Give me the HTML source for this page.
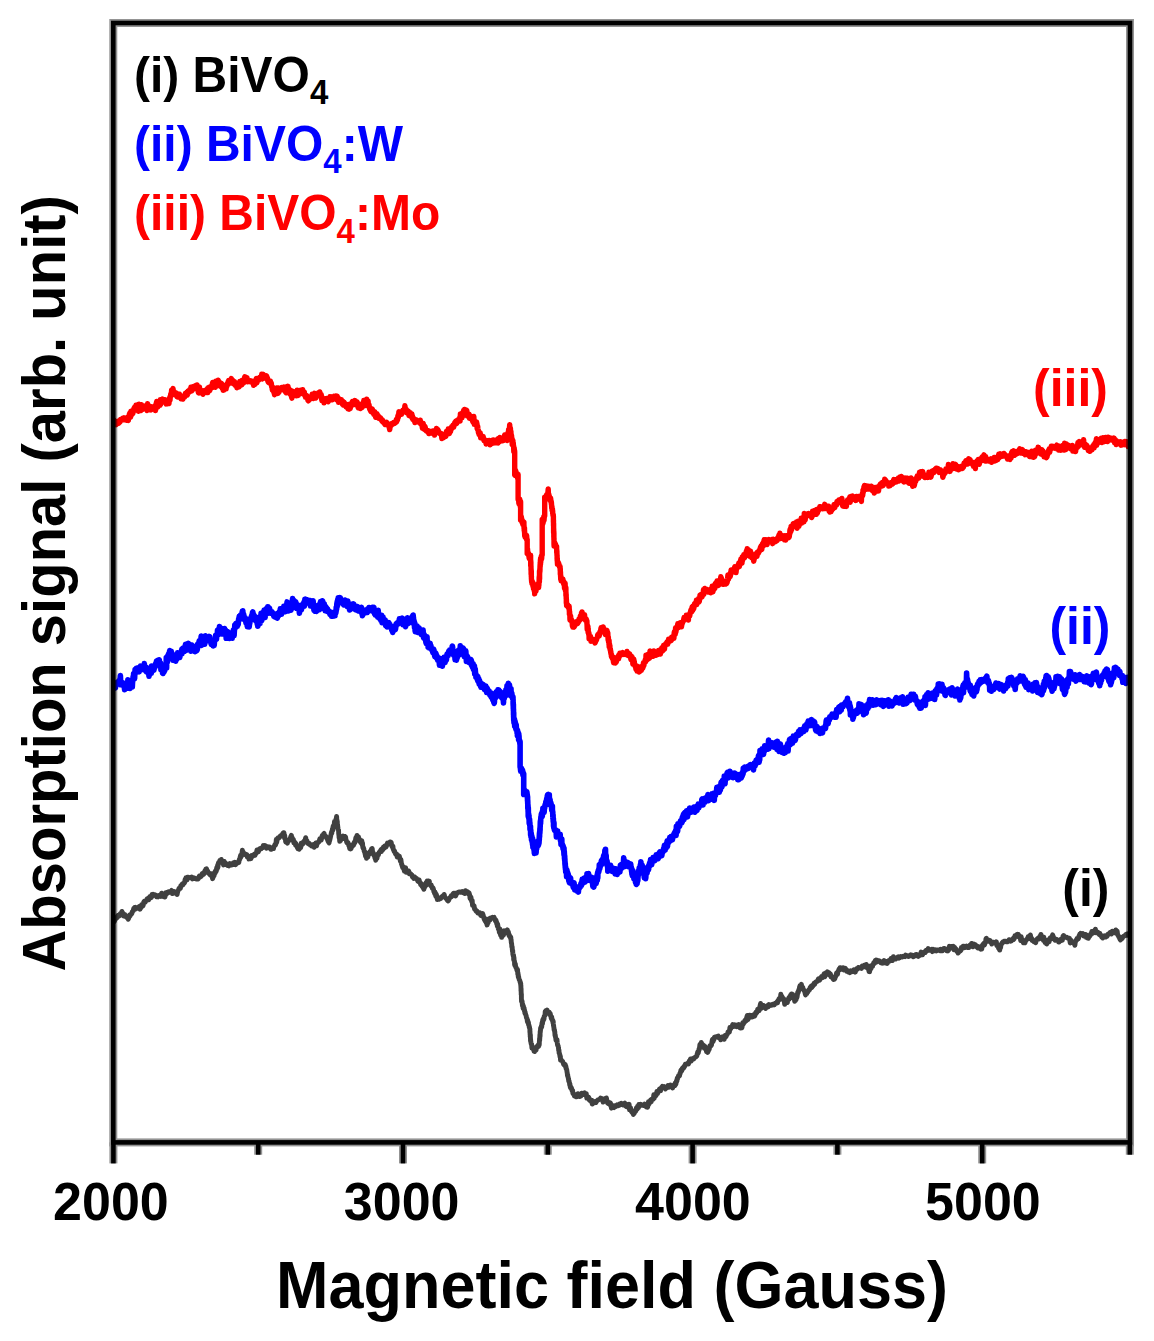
<!DOCTYPE html>
<html><head><meta charset="utf-8"><style>
html,body{margin:0;padding:0;background:#fff;width:1154px;height:1341px;overflow:hidden}
svg{display:block}

text{font-family:"Liberation Sans",sans-serif;font-weight:bold}
</style></head><body>
<div id="w"><svg width="1154" height="1341" viewBox="0 0 1154 1341">
<rect width="1154" height="1341" fill="#fff"/>
<defs><clipPath id="pc"><rect x="113.3" y="23.0" width="1016.7" height="1119.4"/></clipPath></defs>
<g fill="none" stroke-linejoin="round" stroke-linecap="butt" clip-path="url(#pc)">
<path d="M113.0,922.3 L114.0,921.8 L115.0,919.9 L115.6,918.5 L116.2,917.6 L116.7,918.1 L117.3,916.5 L117.9,915.5 L118.5,916.5 L119.0,915.9 L119.6,915.7 L120.2,913.7 L120.8,914.0 L121.3,913.4 L121.9,911.4 L122.5,912.8 L123.1,913.2 L123.7,915.9 L124.2,914.3 L124.8,914.5 L125.4,916.5 L126.0,916.0 L126.6,917.3 L127.1,916.7 L127.7,917.8 L128.3,919.2 L128.7,918.2 L129.2,916.9 L129.6,915.0 L130.1,915.8 L130.5,914.7 L131.0,914.6 L131.4,913.4 L131.9,913.5 L132.3,911.7 L132.8,911.2 L133.2,910.9 L133.7,908.5 L134.1,908.4 L134.6,907.6 L135.0,909.4 L135.8,907.4 L136.7,908.3 L137.5,908.4 L138.3,907.7 L139.2,906.5 L140.0,909.2 L140.5,907.1 L141.1,907.6 L141.6,904.8 L142.1,905.0 L142.6,906.0 L143.2,905.5 L143.7,902.1 L144.2,901.4 L144.7,902.0 L145.3,902.1 L145.8,900.9 L146.5,900.5 L147.2,898.7 L147.9,899.8 L148.6,899.9 L149.3,897.8 L149.9,896.4 L150.6,896.6 L151.3,897.6 L152.0,894.6 L152.7,895.8 L153.4,894.4 L154.1,894.8 L154.9,894.8 L155.8,895.2 L156.6,896.8 L157.4,895.8 L158.3,896.8 L159.1,895.5 L159.9,895.3 L160.7,896.3 L161.6,893.2 L162.4,896.1 L163.2,896.4 L164.1,895.1 L164.9,897.0 L165.4,895.2 L165.8,892.6 L166.3,894.1 L166.8,892.7 L167.3,892.4 L167.7,892.1 L168.2,892.8 L169.0,891.8 L169.9,891.8 L170.7,892.4 L171.6,890.4 L172.4,893.6 L173.2,891.4 L174.1,893.1 L174.9,891.7 L175.8,892.1 L176.6,892.8 L177.1,894.4 L177.5,892.5 L178.0,890.5 L178.5,890.2 L178.9,888.6 L179.4,889.0 L179.9,887.8 L180.4,888.4 L180.8,885.7 L181.3,886.0 L181.8,884.8 L182.2,884.2 L182.7,885.0 L183.2,883.7 L183.6,883.5 L184.1,883.4 L184.6,882.7 L185.1,879.5 L185.5,880.7 L186.0,877.7 L186.5,878.7 L186.9,880.0 L187.4,877.2 L188.2,877.1 L189.1,877.7 L189.9,877.6 L190.7,877.7 L191.6,877.0 L192.4,878.9 L193.2,878.7 L194.0,877.7 L194.9,878.3 L195.7,878.7 L196.5,879.1 L197.4,878.5 L198.2,878.9 L198.8,877.3 L199.4,875.9 L200.0,875.9 L200.6,876.8 L201.2,876.2 L201.8,874.8 L202.3,873.5 L202.9,873.8 L203.5,874.5 L204.1,873.6 L204.7,871.0 L205.3,871.0 L205.9,869.0 L206.5,868.8 L207.1,870.7 L207.7,871.1 L208.3,872.7 L208.9,873.6 L209.5,873.8 L210.2,874.9 L210.8,873.6 L211.4,873.6 L212.0,875.9 L212.6,878.7 L213.2,877.0 L213.5,874.7 L213.8,875.3 L214.1,875.8 L214.5,872.6 L214.8,873.6 L215.1,871.5 L215.4,872.6 L215.7,871.4 L216.0,870.1 L216.3,871.1 L216.7,867.9 L217.0,866.9 L217.3,868.7 L217.6,865.2 L217.9,867.5 L218.2,864.5 L218.5,862.8 L218.9,863.1 L219.2,862.4 L219.5,861.8 L219.8,860.6 L220.5,862.3 L221.3,859.4 L222.0,861.6 L222.8,862.4 L223.5,864.9 L224.3,861.5 L225.0,863.6 L225.8,863.3 L226.5,864.2 L227.3,865.4 L228.2,865.0 L229.0,865.8 L229.8,863.6 L230.6,864.3 L231.5,865.0 L232.3,864.6 L233.1,863.1 L234.0,864.4 L234.8,862.2 L235.6,864.7 L236.4,862.9 L237.3,862.5 L238.1,862.7 L238.5,862.5 L238.8,862.6 L239.2,859.9 L239.5,858.9 L239.9,859.1 L240.2,856.9 L240.6,855.3 L241.0,857.1 L241.3,855.1 L241.7,855.8 L242.0,852.9 L242.4,850.2 L242.7,852.7 L243.1,851.8 L243.6,853.8 L244.2,853.3 L244.7,853.7 L245.2,854.6 L245.7,854.3 L246.3,855.3 L246.8,854.5 L247.3,857.0 L247.8,856.3 L248.4,857.2 L248.9,859.0 L249.6,858.7 L250.3,856.2 L250.9,858.7 L251.6,855.6 L252.3,856.5 L253.0,856.0 L253.7,854.8 L254.4,854.2 L255.0,855.3 L255.7,853.8 L256.4,852.8 L257.0,850.0 L257.6,850.6 L258.3,851.9 L258.9,850.4 L259.5,848.7 L260.1,848.5 L260.8,848.2 L261.4,848.7 L262.0,847.8 L262.6,847.9 L263.3,845.5 L263.9,846.8 L264.7,845.5 L265.6,846.0 L266.4,848.2 L267.2,846.8 L268.1,846.8 L268.9,847.0 L269.8,847.0 L270.6,849.2 L271.4,849.2 L272.3,848.8 L273.1,848.5 L273.5,848.6 L273.8,846.7 L274.2,846.4 L274.5,845.6 L274.9,844.5 L275.2,845.3 L275.6,844.7 L276.0,843.5 L276.3,839.4 L276.7,842.4 L277.0,840.5 L277.4,838.6 L277.7,838.2 L278.1,838.6 L278.8,838.1 L279.6,837.3 L280.3,836.1 L281.0,835.4 L281.7,835.7 L282.4,834.3 L283.2,832.9 L283.9,832.7 L284.1,834.0 L284.3,835.3 L284.5,838.1 L284.7,835.3 L284.9,837.9 L285.1,838.2 L285.4,839.4 L285.6,841.3 L285.8,842.0 L286.0,841.5 L286.2,841.9 L286.4,841.9 L286.9,842.6 L287.4,843.2 L287.9,841.0 L288.4,841.3 L288.9,840.7 L289.4,839.7 L289.9,839.7 L290.4,837.8 L290.9,836.4 L291.4,835.4 L291.8,838.3 L292.2,837.7 L292.6,838.5 L293.0,840.4 L293.4,839.5 L293.8,842.8 L294.2,842.4 L294.6,842.0 L295.1,842.6 L295.5,845.0 L295.9,843.5 L296.3,844.8 L296.7,846.2 L297.1,847.1 L297.5,847.6 L297.9,848.8 L298.3,848.7 L298.8,848.3 L299.3,849.1 L299.7,847.8 L300.2,846.1 L300.7,847.6 L301.2,843.2 L301.6,844.6 L302.1,844.6 L302.6,844.2 L303.1,842.7 L303.6,841.6 L304.0,841.9 L304.5,840.5 L305.0,840.5 L305.7,837.7 L306.3,841.5 L307.0,840.9 L307.6,843.3 L308.3,843.6 L309.0,844.2 L309.6,843.7 L310.3,845.1 L310.9,844.9 L311.6,846.0 L312.4,845.5 L313.3,844.6 L314.1,847.3 L314.9,845.9 L315.8,843.0 L316.6,845.8 L317.1,842.8 L317.5,843.3 L318.0,842.3 L318.5,841.7 L318.9,841.8 L319.4,840.5 L319.9,838.7 L320.4,839.5 L320.8,839.2 L321.3,839.9 L321.8,837.1 L322.2,835.6 L322.7,835.7 L323.2,836.1 L323.6,833.9 L324.1,833.4 L324.5,835.3 L324.9,835.5 L325.4,836.4 L325.8,836.2 L326.2,836.7 L326.6,837.9 L327.0,838.8 L327.4,839.3 L327.9,840.8 L328.3,841.6 L328.7,842.3 L329.1,842.9 L329.3,840.7 L329.5,839.7 L329.7,840.8 L329.9,839.3 L330.2,838.6 L330.4,836.5 L330.6,836.7 L330.8,835.4 L331.0,834.4 L331.2,833.9 L331.4,832.2 L331.6,833.0 L331.8,833.3 L332.0,830.6 L332.2,830.6 L332.5,828.7 L332.7,829.6 L332.9,830.0 L333.1,826.2 L333.3,826.4 L333.6,827.3 L333.9,825.5 L334.2,824.5 L334.5,821.5 L334.8,822.7 L335.1,823.0 L335.4,822.8 L335.7,821.2 L336.0,819.2 L336.3,818.4 L336.6,816.5 L336.7,818.0 L336.8,821.0 L337.0,820.6 L337.1,820.2 L337.2,823.6 L337.3,821.4 L337.4,825.2 L337.5,824.4 L337.7,825.9 L337.8,827.0 L337.9,827.4 L338.0,829.2 L338.1,828.8 L338.2,829.2 L338.4,829.7 L338.5,829.7 L338.6,831.3 L338.7,833.7 L338.8,834.4 L339.0,835.8 L339.1,837.9 L339.2,836.7 L339.3,837.3 L339.4,836.3 L339.5,838.1 L339.7,841.4 L339.8,840.5 L339.9,840.7 L340.5,840.6 L341.1,837.9 L341.8,838.4 L342.4,837.4 L343.0,836.0 L343.6,838.4 L344.3,838.1 L344.9,836.4 L345.2,837.7 L345.6,837.1 L345.9,839.3 L346.3,840.3 L346.6,841.8 L346.9,842.6 L347.3,842.2 L347.6,842.4 L348.0,842.4 L348.3,843.3 L348.7,845.3 L349.0,846.0 L349.3,846.2 L349.7,848.6 L350.0,848.3 L350.4,848.4 L350.7,848.9 L351.1,848.4 L351.5,846.7 L351.9,845.9 L352.3,846.5 L352.7,844.8 L353.1,844.4 L353.5,845.2 L353.9,843.0 L354.2,843.8 L354.6,841.7 L355.0,842.5 L355.4,840.7 L355.8,837.8 L356.2,840.0 L356.6,837.9 L357.0,835.4 L357.4,836.7 L357.9,837.5 L358.4,836.8 L358.9,838.2 L359.4,840.0 L360.0,841.6 L360.5,842.1 L361.0,842.9 L361.5,843.5 L361.8,840.7 L362.0,843.3 L362.2,845.0 L362.5,842.9 L362.8,847.1 L363.0,848.1 L363.2,847.2 L363.5,848.4 L363.8,848.6 L364.0,850.3 L364.2,851.1 L364.5,851.9 L364.8,851.7 L365.0,853.9 L365.2,854.0 L365.5,856.1 L365.8,856.2 L366.0,855.2 L366.2,856.1 L366.5,858.4 L366.9,857.1 L367.3,857.4 L367.8,857.0 L368.2,855.5 L368.6,853.1 L369.0,852.9 L369.4,854.0 L369.8,851.6 L370.2,853.1 L370.7,851.2 L371.1,851.1 L371.5,849.0 L371.9,850.6 L372.2,848.5 L372.6,852.0 L372.9,853.5 L373.2,852.8 L373.6,853.7 L373.9,855.2 L374.3,856.1 L374.6,856.0 L375.0,858.2 L375.3,856.7 L375.7,860.2 L376.1,857.0 L376.6,856.9 L377.0,858.3 L377.5,855.3 L377.9,853.9 L378.4,854.9 L378.8,853.2 L379.3,852.3 L379.7,852.0 L380.2,851.3 L380.6,850.3 L381.1,849.6 L381.5,851.5 L382.2,848.7 L382.8,849.8 L383.5,846.9 L384.1,848.3 L384.8,846.0 L385.4,846.2 L386.1,846.8 L386.8,845.1 L387.4,843.1 L388.1,844.0 L388.7,843.8 L389.4,844.0 L390.0,841.9 L390.7,842.1 L391.0,843.2 L391.2,842.3 L391.5,844.6 L391.8,844.6 L392.1,846.7 L392.4,846.9 L392.6,847.6 L392.9,846.1 L393.2,849.2 L393.4,849.7 L393.7,849.9 L394.0,851.1 L394.5,850.9 L395.1,853.0 L395.6,854.1 L396.1,854.6 L396.6,854.1 L397.2,856.9 L397.7,856.7 L398.2,855.5 L398.7,856.9 L399.3,856.1 L399.8,858.2 L400.1,859.8 L400.4,861.1 L400.6,860.2 L400.9,859.5 L401.2,861.9 L401.5,864.2 L401.7,863.8 L402.0,865.6 L402.3,866.0 L402.6,867.4 L402.8,867.2 L403.1,866.7 L403.7,868.4 L404.4,871.1 L405.0,868.6 L405.6,867.8 L406.2,872.4 L406.9,871.3 L407.5,870.8 L408.1,871.4 L408.7,871.0 L409.4,873.9 L410.0,873.9 L410.6,873.7 L411.2,874.5 L411.9,875.0 L412.5,877.1 L413.1,876.4 L413.8,878.5 L414.4,876.7 L415.1,877.5 L415.8,878.1 L416.5,878.5 L417.1,879.4 L417.8,881.1 L418.5,881.7 L419.1,879.9 L419.8,882.8 L420.2,882.3 L420.6,884.6 L421.0,883.6 L421.4,883.7 L421.9,886.0 L422.3,886.6 L422.7,886.3 L423.1,887.5 L423.5,888.4 L423.9,889.3 L424.2,886.5 L424.6,886.3 L424.9,886.8 L425.3,886.2 L425.6,884.7 L426.0,882.7 L426.4,885.0 L426.7,882.6 L427.1,881.1 L427.4,883.0 L427.8,881.8 L428.1,880.9 L428.5,881.5 L428.9,882.0 L429.3,881.2 L429.6,883.0 L430.0,884.1 L430.4,885.1 L430.8,885.8 L431.2,885.0 L431.6,886.2 L431.9,887.3 L432.3,888.2 L432.7,888.3 L433.1,888.1 L433.5,889.5 L433.9,891.7 L434.3,892.2 L434.6,893.6 L435.0,891.9 L435.4,894.1 L435.8,896.2 L436.2,894.1 L436.6,895.7 L436.9,895.9 L437.3,899.6 L437.7,899.2 L438.1,899.3 L438.7,899.4 L439.4,898.6 L440.0,898.9 L440.6,898.6 L441.2,897.7 L441.9,896.5 L442.5,896.3 L443.1,895.7 L443.7,896.7 L444.2,894.4 L444.8,897.2 L445.3,897.6 L445.9,898.3 L446.4,898.5 L447.0,899.3 L447.5,900.5 L448.1,900.9 L448.7,900.2 L449.3,898.4 L449.9,897.6 L450.5,897.5 L451.1,895.9 L451.7,896.5 L452.3,895.6 L452.9,894.0 L453.5,893.3 L454.1,894.1 L454.7,893.4 L455.5,896.0 L456.4,894.4 L457.2,892.6 L458.0,892.7 L458.9,891.9 L459.7,892.0 L460.5,892.2 L461.4,892.3 L462.2,891.5 L463.0,892.7 L463.9,892.4 L464.7,893.5 L465.4,890.7 L466.1,893.1 L466.8,892.6 L467.6,891.8 L468.3,893.6 L469.0,892.8 L469.7,894.9 L470.0,898.4 L470.2,897.7 L470.5,899.0 L470.7,899.1 L471.0,897.2 L471.2,899.9 L471.5,900.4 L471.7,901.4 L472.0,900.7 L472.2,900.5 L472.5,905.4 L472.7,905.2 L473.0,905.1 L473.4,905.1 L473.7,906.5 L474.1,905.8 L474.4,908.8 L474.8,908.7 L475.1,909.1 L475.4,909.6 L475.8,910.7 L476.5,911.4 L477.2,911.3 L477.8,913.1 L478.5,912.8 L479.2,913.0 L479.9,912.7 L480.6,915.2 L481.3,915.7 L481.9,915.6 L482.6,913.5 L483.3,915.5 L483.6,917.5 L483.9,917.3 L484.2,919.3 L484.5,918.4 L484.8,920.4 L485.1,920.9 L485.4,918.6 L485.7,921.4 L486.0,922.4 L486.3,922.7 L486.6,923.2 L487.1,925.0 L487.6,922.7 L488.1,922.9 L488.6,920.1 L489.1,918.7 L489.6,919.7 L490.1,919.9 L490.6,918.1 L491.1,918.7 L491.6,918.3 L492.5,917.3 L493.3,917.8 L494.1,917.4 L495.0,919.4 L495.3,920.8 L495.6,920.3 L495.9,920.1 L496.1,920.6 L496.4,921.8 L496.7,923.8 L497.0,922.9 L497.3,925.9 L497.6,923.9 L497.9,925.9 L498.2,928.0 L498.4,929.2 L498.7,927.8 L499.0,929.7 L499.3,932.2 L499.6,931.6 L499.9,929.0 L500.2,932.3 L500.5,935.1 L500.7,932.4 L501.0,935.2 L501.3,933.0 L501.6,937.4 L502.2,934.4 L502.9,935.5 L503.5,935.0 L504.2,930.8 L504.8,931.6 L505.5,932.8 L506.1,930.4 L506.8,931.3 L507.4,929.9 L507.7,932.9 L508.1,931.8 L508.4,932.1 L508.8,934.4 L509.1,935.8 L509.4,935.1 L509.8,936.3 L510.1,937.3 L510.5,937.1 L510.8,937.1 L510.9,939.7 L511.0,939.6 L511.1,939.4 L511.3,942.5 L511.4,942.9 L511.5,943.4 L511.6,943.3 L511.7,944.7 L511.8,946.4 L511.9,947.1 L512.1,946.6 L512.2,947.3 L512.3,949.4 L512.4,950.1 L512.5,951.5 L512.7,950.3 L512.8,953.2 L512.9,954.8 L513.1,954.8 L513.2,954.8 L513.3,956.3 L513.5,954.9 L513.6,956.6 L513.7,959.9 L513.8,956.9 L514.0,958.2 L514.1,961.0 L514.2,960.3 L514.4,961.2 L514.5,961.4 L514.6,965.0 L514.8,963.5 L514.9,964.6 L515.3,963.9 L515.7,967.3 L516.1,967.4 L516.6,968.7 L517.0,970.6 L517.4,970.1 L517.5,969.5 L517.6,970.5 L517.7,972.5 L517.8,974.5 L518.0,972.8 L518.1,974.6 L518.2,975.5 L518.3,977.2 L518.6,976.4 L518.9,978.5 L519.2,979.8 L519.5,979.8 L519.8,980.6 L520.1,982.1 L520.4,982.9 L520.7,984.5 L520.7,983.0 L520.8,986.1 L520.8,985.5 L520.9,985.4 L520.9,986.8 L520.9,987.0 L521.0,988.8 L521.0,990.9 L521.1,988.4 L521.1,990.3 L521.2,993.1 L521.2,992.9 L521.2,994.8 L521.3,993.5 L521.3,995.6 L521.4,993.9 L521.4,996.5 L521.4,998.9 L521.5,1000.2 L521.5,1001.5 L521.6,1000.6 L521.6,1000.6 L521.9,1001.9 L522.1,1001.2 L522.4,1005.3 L522.6,1006.0 L522.9,1004.7 L523.1,1008.3 L523.4,1006.0 L523.6,1008.7 L523.9,1008.2 L524.1,1008.1 L524.4,1011.0 L524.6,1010.2 L524.9,1013.3 L525.1,1012.0 L525.4,1013.8 L525.6,1013.9 L525.9,1015.3 L526.1,1015.3 L526.4,1017.5 L526.6,1018.1 L526.9,1018.3 L527.1,1018.9 L527.4,1021.8 L527.6,1019.9 L527.8,1021.0 L528.0,1023.1 L528.2,1023.1 L528.4,1022.3 L528.6,1024.7 L528.9,1025.2 L529.1,1025.5 L529.3,1027.5 L529.5,1027.0 L529.7,1028.7 L529.9,1028.7 L529.9,1032.2 L530.0,1031.2 L530.0,1032.7 L530.1,1033.4 L530.1,1034.7 L530.2,1034.6 L530.2,1036.4 L530.3,1036.6 L530.4,1034.8 L530.4,1038.4 L530.5,1037.7 L530.5,1040.7 L530.6,1040.8 L530.6,1041.1 L530.7,1039.7 L530.7,1041.0 L531.0,1042.7 L531.3,1044.2 L531.6,1044.0 L531.9,1048.1 L532.2,1047.3 L532.6,1047.5 L532.9,1047.4 L533.2,1048.8 L533.5,1049.7 L533.8,1050.2 L534.1,1051.3 L534.6,1051.5 L535.1,1048.3 L535.6,1049.6 L536.1,1049.9 L536.6,1046.7 L537.1,1047.3 L537.6,1046.4 L538.1,1045.0 L538.6,1046.4 L539.1,1044.5 L539.2,1045.1 L539.3,1043.5 L539.3,1042.0 L539.4,1041.7 L539.5,1040.2 L539.6,1038.1 L539.7,1040.4 L539.7,1038.5 L539.8,1038.4 L539.9,1034.6 L540.0,1036.7 L540.1,1035.6 L540.1,1033.9 L540.2,1031.0 L540.3,1032.4 L540.4,1030.8 L540.5,1030.4 L540.5,1029.8 L540.6,1028.0 L540.7,1028.0 L541.0,1027.3 L541.2,1027.9 L541.5,1025.5 L541.7,1027.1 L542.0,1022.8 L542.2,1023.0 L542.5,1023.5 L542.7,1019.9 L543.0,1021.2 L543.2,1020.2 L543.5,1018.4 L543.7,1018.0 L544.0,1019.0 L544.2,1016.3 L544.5,1016.2 L544.7,1015.6 L545.0,1015.6 L545.2,1011.6 L545.5,1011.4 L545.7,1010.8 L546.0,1011.1 L546.2,1011.2 L546.5,1010.6 L547.0,1010.1 L547.5,1012.6 L548.1,1011.6 L548.6,1013.0 L549.1,1012.2 L549.7,1014.4 L550.2,1013.5 L550.7,1016.0 L551.0,1016.5 L551.2,1018.3 L551.5,1016.9 L551.7,1017.0 L552.0,1019.8 L552.2,1020.1 L552.5,1020.1 L552.7,1020.1 L553.0,1023.1 L553.2,1021.2 L553.3,1023.4 L553.5,1025.7 L553.6,1025.2 L553.7,1026.7 L553.9,1027.5 L554.0,1028.4 L554.1,1029.7 L554.3,1030.1 L554.4,1029.8 L554.5,1029.8 L554.6,1031.5 L554.8,1031.9 L554.9,1033.8 L555.0,1035.4 L555.2,1035.7 L555.3,1035.0 L555.4,1036.7 L555.6,1037.3 L555.7,1037.6 L556.0,1040.2 L556.2,1040.4 L556.5,1041.0 L556.7,1040.2 L557.0,1039.6 L557.2,1042.3 L557.5,1045.0 L557.7,1044.5 L558.0,1045.5 L558.2,1046.1 L558.4,1047.7 L558.5,1048.1 L558.7,1050.6 L558.8,1049.6 L559.0,1050.3 L559.1,1052.8 L559.3,1053.0 L559.5,1053.7 L559.6,1054.4 L559.8,1054.7 L559.9,1055.9 L560.1,1056.9 L560.2,1057.3 L560.4,1056.2 L560.5,1060.2 L560.7,1059.2 L561.2,1059.8 L561.7,1060.7 L562.2,1061.0 L562.7,1061.5 L563.2,1063.0 L563.7,1064.6 L564.2,1064.1 L564.7,1065.5 L565.2,1064.4 L565.7,1067.2 L565.9,1066.1 L566.1,1068.8 L566.2,1068.1 L566.4,1069.1 L566.6,1069.3 L566.8,1070.1 L567.0,1072.0 L567.1,1072.1 L567.3,1073.6 L567.5,1075.8 L567.7,1074.7 L567.8,1076.0 L568.0,1077.1 L568.2,1077.4 L568.4,1078.8 L568.6,1079.9 L568.8,1081.5 L569.0,1080.6 L569.2,1082.0 L569.5,1082.8 L569.7,1085.1 L569.9,1083.7 L570.1,1085.7 L570.3,1087.1 L570.5,1087.8 L570.7,1087.3 L571.1,1087.7 L571.4,1087.7 L571.8,1089.7 L572.2,1090.8 L572.6,1090.3 L572.9,1093.4 L573.3,1093.4 L573.7,1093.8 L574.1,1094.3 L574.4,1096.0 L574.8,1096.0 L575.6,1096.6 L576.3,1095.3 L577.1,1096.6 L577.9,1093.7 L578.6,1094.0 L579.4,1096.6 L580.2,1095.6 L581.0,1095.9 L581.7,1093.2 L582.5,1094.5 L583.3,1094.5 L584.0,1094.2 L584.8,1092.8 L585.3,1095.1 L585.8,1094.7 L586.3,1093.7 L586.8,1098.1 L587.3,1096.5 L587.8,1098.3 L588.3,1097.0 L588.8,1097.4 L589.3,1099.9 L589.8,1100.5 L590.3,1099.6 L590.8,1101.2 L591.3,1100.3 L591.8,1100.3 L592.3,1104.1 L593.0,1101.4 L593.8,1102.9 L594.5,1102.8 L595.3,1101.7 L596.0,1102.4 L596.8,1100.8 L597.5,1100.4 L598.3,1099.6 L599.0,1099.6 L599.8,1099.2 L600.6,1098.0 L601.4,1099.0 L602.3,1098.8 L603.1,1102.1 L603.9,1100.6 L604.8,1098.7 L605.6,1100.2 L606.4,1097.9 L606.9,1100.4 L607.4,1102.8 L607.9,1101.8 L608.4,1103.6 L608.9,1102.6 L609.4,1104.1 L609.9,1104.7 L610.4,1102.8 L610.9,1104.8 L611.4,1108.2 L612.2,1105.3 L613.1,1107.2 L613.9,1107.6 L614.7,1105.7 L615.6,1106.6 L616.4,1105.9 L617.2,1104.8 L618.1,1105.8 L618.9,1105.5 L619.7,1104.0 L620.6,1104.4 L621.4,1103.4 L622.2,1104.5 L623.1,1104.9 L623.9,1104.0 L624.8,1103.2 L625.6,1105.9 L626.4,1106.6 L627.3,1104.5 L628.1,1105.6 L628.6,1105.5 L629.1,1104.2 L629.5,1109.7 L630.0,1108.6 L630.5,1107.6 L631.0,1110.9 L631.5,1111.1 L632.0,1112.4 L632.5,1112.5 L632.9,1112.9 L633.4,1114.5 L633.9,1113.5 L634.3,1113.3 L634.7,1111.3 L635.1,1110.5 L635.6,1111.2 L636.0,1110.5 L636.4,1107.9 L636.8,1109.2 L637.2,1109.1 L637.6,1106.1 L638.0,1106.3 L638.5,1107.7 L638.9,1104.4 L639.3,1105.1 L639.7,1104.6 L640.5,1104.3 L641.4,1104.6 L642.2,1105.3 L643.0,1105.3 L643.9,1105.5 L644.7,1104.2 L645.6,1106.2 L646.4,1105.5 L646.9,1107.2 L647.5,1107.3 L648.0,1105.5 L648.5,1101.6 L649.1,1104.1 L649.6,1102.6 L650.1,1100.8 L650.6,1100.0 L651.2,1101.7 L651.7,1099.3 L652.2,1099.3 L652.8,1098.8 L653.3,1099.0 L653.8,1094.8 L654.3,1098.1 L654.9,1095.4 L655.4,1095.2 L655.9,1095.6 L656.4,1094.7 L656.9,1091.4 L657.5,1093.7 L658.0,1092.3 L658.5,1090.8 L659.0,1090.6 L659.5,1089.0 L660.0,1090.8 L660.6,1090.8 L661.1,1088.1 L661.6,1087.6 L662.4,1086.4 L663.2,1087.0 L664.0,1086.5 L664.8,1087.3 L665.5,1088.9 L666.3,1088.0 L667.1,1087.7 L667.9,1085.6 L668.7,1087.2 L669.5,1085.4 L670.3,1085.1 L671.1,1086.5 L671.8,1085.5 L672.6,1087.9 L673.4,1085.4 L674.2,1084.7 L675.0,1085.5 L675.3,1082.9 L675.6,1083.9 L675.9,1084.1 L676.3,1081.6 L676.6,1080.4 L676.9,1081.3 L677.2,1078.3 L677.5,1079.0 L677.8,1077.4 L678.2,1077.4 L678.5,1075.6 L678.8,1076.2 L679.1,1075.4 L679.5,1075.8 L680.0,1073.0 L680.4,1073.1 L680.9,1070.2 L681.3,1070.4 L681.8,1070.7 L682.2,1068.4 L682.7,1068.9 L683.1,1067.4 L683.6,1068.1 L684.0,1067.5 L684.5,1065.7 L684.9,1066.1 L685.4,1064.2 L685.8,1064.1 L686.5,1064.1 L687.1,1063.6 L687.8,1063.2 L688.5,1063.8 L689.2,1061.0 L689.9,1061.0 L690.5,1058.9 L691.2,1061.1 L691.9,1058.7 L692.5,1058.7 L693.2,1058.3 L693.9,1058.8 L694.6,1057.6 L695.2,1057.2 L695.9,1057.0 L696.6,1056.2 L696.9,1055.7 L697.2,1053.9 L697.4,1053.6 L697.7,1052.1 L698.0,1053.4 L698.3,1052.7 L698.5,1051.6 L698.8,1050.5 L699.1,1048.8 L699.4,1049.2 L699.7,1046.3 L699.9,1044.5 L700.2,1045.1 L700.5,1047.0 L700.8,1044.9 L701.0,1045.4 L701.3,1042.4 L701.6,1043.3 L702.0,1044.6 L702.5,1044.7 L702.9,1044.7 L703.4,1046.2 L703.8,1045.4 L704.3,1048.3 L704.7,1046.1 L705.2,1047.2 L705.6,1048.7 L706.1,1048.6 L706.5,1051.8 L707.0,1051.5 L707.4,1050.8 L707.8,1052.4 L708.1,1051.4 L708.5,1048.9 L708.9,1050.1 L709.3,1048.9 L709.6,1046.5 L710.0,1045.7 L710.4,1045.8 L710.8,1045.9 L711.1,1045.6 L711.5,1044.8 L711.9,1042.0 L712.3,1040.0 L712.6,1039.3 L713.0,1041.8 L713.4,1040.6 L713.8,1039.9 L714.1,1038.0 L714.5,1037.3 L714.9,1037.0 L715.7,1037.2 L716.6,1037.1 L717.4,1036.3 L718.2,1036.1 L719.0,1037.9 L719.9,1037.8 L720.7,1039.7 L721.5,1037.4 L722.4,1036.8 L723.2,1037.0 L723.7,1038.3 L724.2,1039.3 L724.6,1036.6 L725.1,1035.6 L725.6,1036.0 L726.1,1036.5 L726.5,1035.4 L727.0,1034.5 L727.5,1033.9 L728.0,1032.0 L728.4,1031.7 L728.9,1031.4 L729.4,1032.1 L729.9,1027.4 L730.3,1028.4 L730.8,1028.6 L731.3,1027.3 L731.8,1026.8 L732.2,1026.0 L732.7,1024.6 L733.2,1025.4 L734.0,1026.4 L734.9,1024.9 L735.7,1025.8 L736.5,1026.7 L737.4,1025.0 L738.2,1025.8 L739.0,1024.7 L739.8,1027.8 L740.7,1028.1 L741.5,1026.3 L741.9,1027.8 L742.3,1026.0 L742.8,1022.6 L743.2,1024.2 L743.6,1023.3 L744.0,1022.9 L744.4,1022.3 L744.8,1020.5 L745.2,1021.4 L745.7,1019.9 L746.1,1020.8 L746.5,1018.1 L747.3,1015.4 L748.0,1019.5 L748.8,1017.9 L749.5,1015.2 L750.3,1016.1 L751.0,1015.6 L751.8,1017.0 L752.5,1015.2 L753.3,1016.7 L754.0,1014.7 L754.8,1015.9 L755.3,1013.6 L755.8,1012.3 L756.2,1013.4 L756.7,1011.9 L757.2,1012.0 L757.7,1009.1 L758.2,1009.0 L758.7,1009.0 L759.1,1010.6 L759.6,1008.4 L760.1,1005.6 L760.6,1003.5 L761.4,1008.4 L762.3,1006.8 L763.1,1005.2 L763.9,1007.3 L764.8,1007.2 L765.6,1008.4 L766.4,1006.4 L767.3,1005.6 L768.1,1006.9 L768.9,1004.6 L769.8,1005.5 L770.6,1004.9 L771.4,1005.2 L772.3,1004.5 L773.1,1004.3 L773.7,1004.0 L774.2,1004.9 L774.8,1003.9 L775.3,1003.2 L775.9,1003.1 L776.4,1002.8 L777.0,1001.9 L777.5,1002.9 L778.1,1000.5 L778.6,1000.0 L779.2,998.5 L779.7,999.5 L780.3,999.2 L780.8,994.2 L781.4,997.4 L781.9,996.2 L782.3,998.4 L782.8,998.9 L783.3,998.3 L783.7,998.9 L784.2,1000.7 L784.7,1004.4 L785.1,1001.2 L785.6,1002.8 L786.0,1002.2 L786.5,1001.5 L786.9,1002.2 L787.4,1002.5 L787.8,999.7 L788.3,999.4 L788.7,998.0 L789.2,999.2 L789.6,996.8 L790.1,996.9 L790.5,995.3 L791.0,995.9 L791.4,994.0 L791.9,994.0 L792.3,997.5 L792.8,994.4 L793.3,997.2 L793.7,997.4 L794.2,997.6 L794.7,1001.3 L795.1,1000.3 L795.6,1000.3 L795.8,999.0 L796.1,999.5 L796.3,998.3 L796.6,997.3 L796.8,996.1 L797.0,997.5 L797.3,995.4 L797.5,994.2 L797.7,992.3 L798.0,992.0 L798.2,992.7 L798.5,990.5 L798.7,991.1 L798.9,989.5 L799.2,989.2 L799.4,988.4 L799.6,986.8 L799.9,986.2 L800.1,985.6 L800.4,985.5 L800.6,986.5 L801.0,985.7 L801.4,984.3 L801.9,988.6 L802.3,987.0 L802.7,987.2 L803.1,988.8 L803.5,989.4 L803.9,990.4 L804.4,990.9 L804.8,991.7 L805.2,993.7 L805.6,994.9 L806.2,992.7 L806.7,993.6 L807.3,992.3 L807.9,992.0 L808.4,990.4 L809.0,989.7 L809.6,989.7 L810.1,987.4 L810.7,987.8 L811.3,986.0 L811.9,987.4 L812.4,986.1 L813.0,985.9 L813.6,984.3 L814.1,983.3 L814.7,984.4 L815.3,982.4 L815.8,982.0 L816.4,981.6 L817.0,981.6 L817.7,980.6 L818.3,979.0 L819.0,978.5 L819.6,980.1 L820.3,978.2 L820.9,977.8 L821.6,976.6 L822.2,977.9 L822.8,977.0 L823.5,975.4 L824.1,973.7 L824.8,976.8 L825.4,973.9 L826.1,972.8 L826.7,972.9 L827.4,971.8 L828.0,972.4 L828.5,972.5 L829.0,972.6 L829.4,975.1 L829.9,974.3 L830.4,974.0 L830.9,976.8 L831.4,976.6 L831.9,976.8 L832.3,976.9 L832.8,978.5 L833.3,979.3 L833.7,978.7 L834.1,978.0 L834.5,979.1 L835.0,978.2 L835.4,976.7 L835.8,976.3 L836.2,974.6 L836.6,972.9 L837.0,974.2 L837.5,974.3 L837.9,971.6 L838.3,970.9 L838.7,970.2 L839.1,968.9 L839.5,970.0 L840.0,967.7 L840.4,969.5 L840.8,969.1 L841.5,967.9 L842.3,968.2 L843.0,967.8 L843.8,970.0 L844.5,969.6 L845.3,968.4 L846.0,969.4 L846.8,971.2 L847.5,970.7 L848.3,972.0 L849.1,971.6 L849.9,972.6 L850.6,970.8 L851.4,971.8 L852.2,971.6 L853.0,971.6 L853.8,969.7 L854.5,970.1 L855.3,972.1 L856.1,969.1 L856.9,968.5 L857.7,969.0 L858.4,967.5 L859.2,967.6 L860.0,967.8 L860.7,967.5 L861.5,968.4 L862.2,965.9 L862.9,966.4 L863.6,966.4 L864.3,965.4 L865.1,966.1 L865.8,967.1 L866.3,964.5 L866.7,965.5 L867.2,966.5 L867.7,967.2 L868.2,967.9 L868.6,969.6 L869.1,971.6 L869.6,971.7 L870.1,968.5 L870.5,965.9 L871.0,968.8 L871.5,966.6 L872.0,965.5 L872.5,966.4 L872.9,964.5 L873.4,963.8 L873.9,962.5 L874.4,963.6 L874.8,962.9 L875.3,960.5 L875.8,960.1 L876.6,962.1 L877.5,960.4 L878.3,960.9 L879.1,960.7 L880.0,961.4 L880.8,962.7 L881.6,962.1 L882.4,963.2 L883.3,963.0 L884.1,960.6 L884.9,962.8 L885.8,963.0 L886.6,961.5 L887.2,963.4 L887.9,961.9 L888.5,960.9 L889.1,961.3 L889.7,961.1 L890.4,960.2 L891.0,958.4 L891.6,958.3 L892.4,960.6 L893.3,956.7 L894.1,957.9 L894.9,957.7 L895.8,959.0 L896.6,958.0 L897.4,957.4 L898.2,956.8 L899.1,958.1 L899.9,956.8 L900.7,956.5 L901.6,956.6 L902.4,957.0 L903.2,956.2 L904.1,956.2 L904.9,956.6 L905.7,955.1 L906.6,955.6 L907.4,955.9 L908.2,956.5 L909.1,956.4 L909.9,955.3 L910.7,954.8 L911.5,955.4 L912.4,955.3 L913.2,956.7 L914.0,956.4 L914.9,955.9 L915.7,954.7 L916.5,954.5 L917.4,955.9 L918.2,956.4 L918.9,955.8 L919.6,954.7 L920.3,955.1 L921.1,952.1 L921.8,954.8 L922.5,954.8 L923.2,953.0 L923.9,952.7 L924.6,951.8 L925.3,952.5 L926.1,950.2 L926.8,950.2 L927.5,950.7 L928.2,948.5 L929.0,950.4 L929.9,950.4 L930.7,949.9 L931.5,949.4 L932.4,951.6 L933.2,949.4 L934.0,950.1 L934.9,950.7 L935.7,949.9 L936.5,950.9 L937.4,949.9 L938.2,950.2 L939.0,949.9 L939.8,950.6 L940.7,949.3 L941.5,950.8 L942.3,950.9 L943.2,948.9 L944.0,948.4 L944.8,948.6 L945.7,949.1 L946.5,950.6 L947.2,949.5 L948.0,950.8 L948.7,949.9 L949.4,946.3 L950.1,946.9 L950.8,946.5 L951.6,947.9 L952.3,946.6 L952.9,947.4 L953.5,946.3 L954.0,949.8 L954.6,947.3 L955.2,949.1 L955.8,948.8 L956.4,949.5 L956.9,951.3 L957.5,950.8 L958.1,953.1 L958.7,952.3 L959.2,951.2 L959.8,951.1 L960.3,950.9 L960.9,950.3 L961.4,947.4 L962.0,948.5 L962.5,948.1 L963.1,946.2 L963.9,946.1 L964.8,947.6 L965.6,946.9 L966.4,946.2 L967.3,947.4 L968.1,946.8 L969.0,947.5 L969.8,945.2 L970.6,946.5 L971.5,943.4 L972.3,944.6 L973.1,946.8 L974.0,944.1 L974.8,944.7 L975.5,944.9 L976.3,946.1 L977.0,947.2 L977.7,948.0 L978.5,946.6 L979.2,947.5 L979.9,948.4 L980.7,949.1 L981.4,948.0 L981.8,949.0 L982.2,945.5 L982.6,946.5 L983.1,944.2 L983.5,944.4 L983.9,943.4 L984.3,945.2 L984.7,944.4 L985.1,942.9 L985.6,941.5 L986.0,938.7 L986.4,938.3 L987.2,940.4 L987.9,941.2 L988.7,941.3 L989.5,940.3 L990.2,940.5 L991.0,942.1 L991.8,944.0 L992.6,942.8 L993.3,942.2 L994.1,942.4 L994.9,943.2 L995.6,943.4 L996.4,941.9 L996.8,945.6 L997.2,945.2 L997.6,946.0 L998.0,945.7 L998.5,948.0 L998.9,948.7 L999.3,947.6 L999.7,950.1 L1000.0,947.6 L1000.3,945.7 L1000.6,947.7 L1000.9,945.1 L1001.2,944.8 L1001.6,943.6 L1001.9,943.7 L1002.2,942.7 L1002.5,942.5 L1002.8,942.0 L1003.1,942.4 L1004.0,941.3 L1004.8,941.3 L1005.7,941.3 L1006.5,941.7 L1007.4,941.8 L1008.3,941.1 L1009.1,939.7 L1010.0,939.9 L1010.8,941.2 L1011.7,940.6 L1012.2,939.9 L1012.8,939.1 L1013.3,938.3 L1013.8,939.4 L1014.3,938.5 L1014.9,935.8 L1015.4,936.6 L1015.9,935.8 L1016.4,934.7 L1017.0,935.6 L1017.5,934.2 L1018.0,934.7 L1018.4,934.5 L1018.9,937.0 L1019.3,937.0 L1019.8,937.8 L1020.2,937.5 L1020.7,940.5 L1021.1,936.6 L1021.6,939.0 L1022.0,939.5 L1022.5,940.6 L1022.9,941.5 L1023.4,942.8 L1023.9,942.3 L1024.5,942.2 L1025.0,942.7 L1025.5,941.3 L1026.0,940.2 L1026.6,939.3 L1027.1,939.2 L1027.6,939.0 L1028.1,936.8 L1028.7,938.7 L1029.2,936.3 L1029.8,937.7 L1030.4,935.0 L1031.0,938.2 L1031.6,938.2 L1032.2,940.6 L1032.7,940.8 L1033.3,940.7 L1033.9,941.6 L1034.5,941.2 L1035.1,941.2 L1035.7,942.7 L1036.3,939.7 L1036.8,939.8 L1037.4,938.6 L1038.0,938.3 L1038.6,938.2 L1039.2,938.9 L1039.7,936.5 L1040.3,937.6 L1040.9,934.4 L1041.5,936.1 L1042.1,936.7 L1042.7,938.9 L1043.3,940.2 L1043.8,937.2 L1044.4,940.2 L1045.0,942.4 L1045.6,941.4 L1046.2,943.7 L1046.8,943.9 L1047.4,942.3 L1048.0,940.0 L1048.5,940.1 L1049.1,941.7 L1049.7,938.6 L1050.3,937.8 L1050.9,937.8 L1051.4,938.8 L1052.0,937.0 L1052.6,934.8 L1053.2,936.3 L1053.8,938.1 L1054.4,939.2 L1055.0,940.1 L1055.5,939.7 L1056.1,940.2 L1056.7,939.4 L1057.3,940.4 L1057.9,940.2 L1058.5,942.0 L1059.1,942.0 L1059.8,941.1 L1060.4,939.6 L1061.0,940.6 L1061.7,940.4 L1062.3,940.2 L1063.0,936.3 L1063.6,935.5 L1064.2,936.3 L1064.9,937.4 L1065.5,937.3 L1066.2,937.5 L1066.8,937.3 L1067.5,938.0 L1068.2,938.1 L1068.9,938.1 L1069.5,938.3 L1070.2,943.0 L1070.9,940.1 L1071.5,941.4 L1072.2,941.8 L1072.9,942.7 L1073.6,942.3 L1074.2,943.7 L1074.9,945.3 L1075.3,941.9 L1075.7,941.3 L1076.1,940.2 L1076.6,940.1 L1077.0,938.5 L1077.4,939.3 L1077.8,939.0 L1078.2,938.8 L1078.6,938.2 L1079.0,935.8 L1079.5,935.6 L1079.9,933.9 L1080.3,934.1 L1080.7,933.4 L1081.4,934.2 L1082.1,934.1 L1082.8,933.5 L1083.5,935.9 L1084.2,935.2 L1084.9,934.4 L1085.6,934.5 L1086.3,937.3 L1087.0,935.2 L1087.7,938.1 L1088.3,938.3 L1088.9,936.8 L1089.5,936.5 L1090.1,935.6 L1090.7,933.9 L1091.2,934.1 L1091.8,931.5 L1092.4,933.4 L1093.0,932.8 L1093.6,931.7 L1094.2,932.1 L1094.8,930.2 L1095.4,929.2 L1096.0,932.9 L1096.7,932.1 L1097.3,931.9 L1097.9,932.6 L1098.5,933.3 L1099.2,934.4 L1099.8,933.4 L1100.4,935.4 L1101.0,935.4 L1101.7,937.0 L1102.3,936.5 L1102.9,938.0 L1103.6,936.1 L1104.3,937.0 L1105.1,935.9 L1105.8,936.9 L1106.5,935.8 L1107.2,936.1 L1107.9,934.2 L1108.6,933.7 L1109.3,933.9 L1110.1,932.5 L1110.8,932.9 L1111.5,934.0 L1112.2,931.3 L1112.9,931.4 L1113.7,931.6 L1114.4,932.8 L1115.1,932.9 L1115.8,929.9 L1116.2,930.7 L1116.5,932.1 L1116.9,931.9 L1117.2,931.3 L1117.6,934.6 L1118.0,935.1 L1118.3,935.7 L1118.7,936.7 L1119.1,937.1 L1119.4,937.0 L1119.8,939.0 L1120.1,939.0 L1120.5,940.0 L1121.2,938.1 L1121.8,938.7 L1122.5,938.0 L1123.2,936.6 L1123.8,936.1 L1124.5,935.9 L1125.1,935.7 L1125.8,934.5 L1126.6,934.0 L1127.5,935.1 L1128.3,933.8 L1129.2,935.3 L1130.0,935.0" stroke="#404040" stroke-width="4.9"/>
<path d="M113.0,690.7 L113.7,684.8 L114.3,687.1 L115.0,686.8 L115.5,687.7 L115.9,682.8 L116.4,684.3 L116.8,683.2 L117.3,682.1 L117.7,682.1 L118.2,682.3 L118.6,682.3 L119.1,680.6 L119.5,682.8 L120.0,680.4 L120.4,675.6 L120.8,684.8 L121.2,682.2 L121.7,681.9 L122.1,684.4 L122.5,684.8 L122.9,685.0 L123.3,683.6 L123.7,686.2 L124.1,683.2 L124.6,689.7 L125.0,684.7 L125.4,687.3 L125.8,688.2 L126.3,688.3 L126.9,687.1 L127.4,688.2 L127.9,679.7 L128.4,686.2 L129.0,685.8 L129.5,684.9 L130.0,688.5 L130.5,683.2 L131.1,684.7 L131.6,680.5 L131.8,684.5 L132.0,680.1 L132.2,679.6 L132.3,686.9 L132.5,683.0 L132.7,681.0 L132.9,680.8 L133.1,676.9 L133.3,677.1 L133.5,679.5 L133.6,673.8 L133.8,678.1 L134.0,673.4 L134.2,676.6 L134.4,673.5 L134.6,678.7 L134.7,676.6 L134.9,673.0 L135.1,669.6 L135.3,671.2 L135.5,672.1 L135.7,669.6 L135.9,671.7 L136.0,672.5 L136.2,669.8 L136.4,668.4 L136.6,670.3 L137.2,668.1 L137.9,670.3 L138.5,667.9 L139.2,671.8 L139.8,667.9 L140.4,666.2 L141.1,668.5 L141.7,667.0 L142.3,666.3 L143.0,667.9 L143.6,669.6 L144.3,663.6 L144.9,667.9 L145.2,668.1 L145.6,668.6 L145.9,671.1 L146.3,667.3 L146.6,671.8 L146.9,670.5 L147.3,671.7 L147.6,671.5 L148.0,671.8 L148.3,671.9 L148.7,673.3 L149.0,676.3 L149.4,673.6 L149.8,672.7 L150.2,671.6 L150.5,669.1 L150.9,670.8 L151.3,673.3 L151.6,666.0 L152.0,669.8 L152.4,669.6 L152.7,667.7 L153.1,668.2 L153.5,668.9 L153.9,670.1 L154.2,667.8 L154.6,668.0 L155.0,664.8 L155.3,665.4 L155.7,663.6 L156.1,663.3 L156.4,661.3 L156.8,663.1 L157.2,664.2 L157.6,660.4 L157.9,660.8 L158.3,661.0 L158.5,660.4 L158.7,662.8 L158.9,662.0 L159.2,659.7 L159.4,660.6 L159.6,664.7 L159.8,665.1 L160.0,666.7 L160.2,665.5 L160.4,666.0 L160.6,663.0 L160.9,669.6 L161.1,665.5 L161.3,670.0 L161.5,666.2 L161.7,667.7 L161.9,670.0 L162.1,669.4 L162.3,669.4 L162.6,673.2 L162.8,673.3 L163.0,673.4 L163.2,672.5 L163.4,670.9 L163.6,671.0 L163.7,670.3 L163.9,670.8 L164.1,671.8 L164.3,669.3 L164.5,667.5 L164.6,667.2 L164.8,670.5 L165.0,667.6 L165.2,667.2 L165.4,666.7 L165.6,666.7 L165.7,665.2 L165.9,666.7 L166.1,665.4 L166.3,657.5 L166.5,662.3 L166.6,668.0 L166.8,658.9 L167.0,661.1 L167.2,662.5 L167.4,659.7 L167.5,661.8 L167.7,656.0 L167.9,655.4 L168.1,657.0 L168.3,655.3 L168.5,654.0 L168.6,656.7 L168.8,655.6 L169.0,654.4 L169.2,653.0 L169.4,653.8 L169.5,652.4 L169.7,650.6 L169.9,652.5 L170.2,652.7 L170.6,652.7 L170.9,654.4 L171.3,651.3 L171.6,653.7 L171.9,653.4 L172.3,657.6 L172.6,656.5 L173.0,660.2 L173.3,659.6 L173.7,656.2 L174.0,655.2 L174.3,658.9 L174.7,657.9 L175.0,658.6 L175.4,657.3 L175.7,661.1 L176.1,659.8 L176.4,659.7 L176.8,659.0 L177.2,656.1 L177.6,652.9 L177.9,656.4 L178.3,655.1 L178.7,654.8 L179.1,657.3 L179.4,654.7 L179.8,657.4 L180.2,654.3 L180.6,654.8 L180.9,653.9 L181.3,654.0 L181.7,649.4 L182.1,653.6 L182.4,651.1 L182.8,648.4 L183.2,651.1 L183.7,650.1 L184.1,651.6 L184.6,650.0 L185.0,648.8 L185.5,644.4 L185.9,650.5 L186.4,649.7 L186.8,647.8 L187.3,646.7 L187.7,647.8 L188.2,643.2 L188.6,646.8 L189.0,645.9 L189.4,644.3 L189.9,647.5 L190.3,648.0 L190.7,651.1 L191.1,650.1 L191.5,645.5 L191.9,645.2 L192.3,649.5 L192.8,649.7 L193.2,648.7 L193.6,648.1 L194.0,651.1 L194.3,648.7 L194.7,649.1 L195.0,651.7 L195.3,650.0 L195.6,647.5 L196.0,646.2 L196.3,647.6 L196.6,650.9 L196.9,645.9 L197.3,649.9 L197.6,644.4 L197.9,645.0 L198.2,646.3 L198.6,642.9 L198.9,644.0 L199.2,640.7 L199.5,644.3 L199.9,644.7 L200.2,640.6 L200.5,641.8 L200.8,640.1 L201.2,636.1 L201.5,645.4 L202.1,641.1 L202.8,641.4 L203.4,640.5 L204.1,640.0 L204.7,644.3 L205.3,635.9 L206.0,638.8 L206.6,638.6 L207.2,638.9 L207.9,640.7 L208.5,637.8 L209.2,636.5 L209.8,636.8 L210.1,640.5 L210.5,642.0 L210.8,642.2 L211.2,644.3 L211.5,640.6 L211.8,644.1 L212.2,644.0 L212.5,642.8 L212.9,642.1 L213.2,645.9 L213.5,642.2 L213.7,642.4 L214.0,640.5 L214.2,645.4 L214.5,641.3 L214.7,639.8 L215.0,639.8 L215.2,639.3 L215.5,639.4 L215.7,635.2 L216.0,635.8 L216.2,638.6 L216.5,639.2 L216.8,634.4 L217.0,636.1 L217.3,634.2 L217.5,630.3 L217.8,633.6 L218.0,631.5 L218.3,634.9 L218.5,632.2 L218.8,632.0 L219.0,628.6 L219.3,631.3 L219.5,626.5 L219.8,630.3 L220.3,633.0 L220.9,628.1 L221.4,632.5 L221.9,633.9 L222.5,631.0 L223.0,634.0 L223.5,632.2 L224.1,631.3 L224.6,628.6 L225.1,630.8 L225.7,630.3 L226.2,638.3 L226.7,634.4 L227.2,633.8 L227.8,631.8 L228.3,638.2 L228.8,632.7 L229.4,638.4 L229.9,637.9 L230.4,636.1 L231.0,635.0 L231.5,636.5 L231.7,633.4 L232.0,636.8 L232.2,638.3 L232.5,636.2 L232.7,635.9 L232.9,631.9 L233.2,633.3 L233.4,630.1 L233.6,630.7 L233.9,632.5 L234.1,635.5 L234.4,630.1 L234.6,629.4 L234.8,625.0 L235.1,628.6 L235.3,625.9 L235.5,624.3 L235.8,623.6 L236.0,626.3 L236.3,624.7 L236.5,626.3 L236.8,623.9 L237.1,623.8 L237.3,626.2 L237.6,624.3 L237.9,623.7 L238.2,624.5 L238.4,621.5 L238.7,618.5 L239.0,618.3 L239.3,616.2 L239.5,619.5 L239.8,617.5 L240.1,618.7 L240.4,618.8 L240.6,615.0 L240.9,616.4 L241.2,618.1 L241.5,615.1 L241.7,616.3 L242.0,613.5 L242.3,611.4 L242.5,613.4 L242.8,610.7 L243.0,616.4 L243.2,614.5 L243.4,618.8 L243.7,614.2 L243.9,617.5 L244.1,618.5 L244.3,618.0 L244.6,619.7 L244.8,618.0 L245.0,618.0 L245.3,617.9 L245.5,620.1 L245.7,620.2 L245.9,622.9 L246.2,622.2 L246.4,622.2 L246.6,622.6 L246.8,620.8 L247.1,624.5 L247.3,626.6 L247.6,622.6 L247.9,624.2 L248.1,625.5 L248.4,622.2 L248.7,623.4 L249.0,621.6 L249.2,626.9 L249.5,624.2 L249.8,623.2 L250.1,618.8 L250.3,621.0 L250.6,618.8 L250.9,619.3 L251.2,616.8 L251.4,617.8 L251.7,615.3 L252.0,616.9 L252.3,619.3 L252.5,612.4 L252.8,612.0 L253.1,615.1 L253.4,616.2 L253.7,614.4 L254.0,616.9 L254.3,617.1 L254.6,617.9 L254.9,620.1 L255.2,616.6 L255.5,619.8 L255.7,619.4 L256.0,618.1 L256.3,621.1 L256.6,618.0 L256.9,618.1 L257.2,623.9 L257.5,620.0 L257.8,626.2 L258.1,625.4 L258.4,621.7 L258.8,620.5 L259.1,617.3 L259.4,621.1 L259.8,617.5 L260.1,623.5 L260.4,616.4 L260.8,619.4 L261.1,613.2 L261.4,617.6 L261.8,620.5 L262.1,616.4 L262.4,615.1 L262.8,615.3 L263.1,616.6 L263.4,617.1 L263.8,614.3 L264.1,610.1 L264.4,614.4 L264.8,615.3 L265.1,617.5 L265.4,612.6 L265.8,612.1 L266.1,610.2 L266.4,612.3 L266.8,613.9 L267.1,607.7 L267.4,609.5 L267.8,606.7 L268.1,606.9 L268.5,608.3 L269.0,610.2 L269.4,607.9 L269.8,609.4 L270.3,613.3 L270.7,611.9 L271.2,612.8 L271.6,612.6 L272.0,611.8 L272.5,613.5 L272.9,614.2 L273.3,613.5 L273.8,616.1 L274.2,614.4 L274.7,616.7 L275.1,615.3 L275.5,617.2 L276.0,614.8 L276.4,615.4 L276.8,613.8 L277.3,618.2 L277.7,616.3 L278.1,615.3 L278.6,615.7 L279.0,612.3 L279.5,613.7 L279.9,612.1 L280.3,608.8 L280.8,611.7 L281.2,610.0 L281.6,614.3 L282.1,609.4 L282.5,609.2 L283.0,612.0 L283.4,609.6 L283.8,606.4 L284.3,609.2 L284.7,606.7 L285.3,611.6 L285.9,605.7 L286.5,606.2 L287.1,601.9 L287.6,606.0 L288.2,611.0 L288.8,606.7 L289.4,604.8 L290.0,607.2 L290.3,605.5 L290.6,605.5 L291.0,610.2 L291.3,608.7 L291.6,607.3 L291.9,606.9 L292.3,601.1 L292.6,598.5 L292.9,603.5 L293.2,602.3 L293.6,601.1 L293.9,600.3 L294.2,601.5 L294.5,601.7 L294.8,601.6 L295.1,602.6 L295.4,601.7 L295.7,601.9 L296.0,606.0 L296.3,603.2 L296.6,608.3 L296.9,606.1 L297.3,605.4 L297.6,608.1 L297.9,605.3 L298.2,606.4 L298.5,606.7 L298.8,607.9 L299.1,609.8 L299.4,613.2 L299.7,610.5 L300.0,607.8 L300.3,607.8 L300.7,605.2 L301.0,609.9 L301.4,609.7 L301.7,608.0 L302.1,607.6 L302.4,607.4 L302.8,606.7 L303.1,606.6 L303.5,605.2 L303.8,602.2 L304.2,605.6 L304.5,605.9 L304.9,599.3 L305.2,601.6 L305.6,599.2 L305.9,602.1 L306.3,599.9 L306.6,602.9 L307.0,602.7 L307.5,599.9 L307.9,600.3 L308.3,600.5 L308.8,603.3 L309.2,600.7 L309.6,603.9 L310.1,600.6 L310.5,606.0 L310.9,605.3 L311.4,602.4 L311.8,603.6 L312.3,605.9 L312.7,606.7 L313.1,600.7 L313.6,607.4 L314.0,610.5 L314.4,606.9 L314.9,605.5 L315.3,611.2 L315.7,609.6 L316.2,610.0 L316.6,611.3 L317.0,607.0 L317.4,607.6 L317.8,606.2 L318.1,605.7 L318.5,606.8 L318.9,604.8 L319.3,609.8 L319.7,607.0 L320.1,607.2 L320.5,601.6 L320.9,604.0 L321.2,603.7 L321.6,603.8 L322.0,603.9 L322.4,600.9 L322.7,601.1 L323.0,605.5 L323.3,608.7 L323.6,608.8 L324.0,604.5 L324.3,604.0 L324.6,606.5 L324.9,607.6 L325.2,610.8 L325.5,607.2 L325.8,606.7 L326.1,610.9 L326.4,607.8 L326.7,608.0 L327.1,611.4 L327.4,610.4 L327.7,609.2 L328.0,611.3 L328.3,611.5 L328.9,612.2 L329.4,611.4 L329.9,614.4 L330.5,612.8 L331.1,612.6 L331.6,616.3 L332.1,612.5 L332.7,616.2 L333.2,616.1 L333.8,614.6 L334.3,615.9 L334.9,612.8 L335.0,615.7 L335.1,612.5 L335.3,612.2 L335.4,613.9 L335.5,611.3 L335.6,612.4 L335.7,612.4 L335.8,613.1 L336.0,611.2 L336.1,611.9 L336.2,607.6 L336.3,607.8 L336.4,609.3 L336.5,609.7 L336.7,607.7 L336.8,605.1 L336.9,603.4 L337.0,603.0 L337.1,606.6 L337.2,601.7 L337.4,602.6 L337.5,603.8 L337.6,602.8 L337.7,599.9 L337.8,604.7 L337.9,600.4 L338.1,600.1 L338.2,600.5 L338.3,597.7 L338.8,600.1 L339.3,598.8 L339.8,597.7 L340.3,597.9 L340.7,601.0 L341.2,600.9 L341.7,600.7 L342.2,600.5 L342.7,601.3 L343.2,603.8 L343.7,604.9 L344.2,602.5 L344.6,603.9 L345.1,600.0 L345.6,601.9 L346.1,603.2 L346.6,603.2 L347.2,606.5 L347.8,601.0 L348.4,606.3 L349.0,606.8 L349.6,610.0 L350.2,604.7 L350.8,606.7 L351.3,608.9 L351.9,607.9 L352.5,604.2 L353.1,605.5 L353.7,604.0 L354.3,606.6 L354.9,608.0 L355.4,609.7 L355.9,608.4 L356.4,609.4 L356.9,610.1 L357.4,606.6 L357.9,610.0 L358.4,610.9 L358.9,608.9 L359.4,607.7 L359.9,610.3 L360.4,610.6 L360.9,612.0 L361.4,607.3 L361.9,610.5 L362.4,615.7 L362.9,614.6 L363.4,612.0 L363.9,612.0 L364.4,612.4 L364.9,611.3 L365.4,612.1 L365.9,612.6 L366.4,609.9 L366.9,611.9 L367.4,612.2 L367.9,608.8 L368.5,610.1 L369.0,607.6 L369.5,610.5 L370.0,610.5 L370.5,608.7 L371.0,609.6 L371.5,610.2 L372.0,610.9 L372.5,607.2 L372.9,609.7 L373.4,607.9 L373.9,607.4 L374.4,613.6 L374.9,613.5 L375.3,615.0 L375.8,614.4 L376.3,612.2 L376.8,614.1 L377.2,613.0 L377.7,617.2 L378.2,610.2 L378.6,616.1 L379.1,614.7 L379.5,617.7 L379.9,619.1 L380.4,615.8 L380.8,620.3 L381.3,620.2 L381.7,615.3 L382.1,622.6 L382.6,616.9 L383.0,617.0 L383.4,622.1 L383.9,619.2 L384.3,621.5 L384.8,621.4 L385.2,619.9 L385.6,625.6 L386.1,625.8 L386.5,623.5 L387.0,626.9 L387.5,624.1 L387.9,625.1 L388.4,624.3 L388.9,622.7 L389.4,625.1 L389.9,624.3 L390.3,627.4 L390.8,627.3 L391.3,626.3 L391.8,630.4 L392.2,629.0 L392.7,632.4 L393.2,628.3 L393.6,627.8 L393.9,626.6 L394.3,628.0 L394.7,626.7 L395.0,626.6 L395.4,629.6 L395.8,627.1 L396.1,623.8 L396.5,625.3 L396.9,623.5 L397.2,622.9 L397.6,622.5 L398.0,622.6 L398.3,623.2 L398.7,623.5 L399.1,621.0 L399.4,618.8 L399.8,619.9 L400.3,619.9 L400.9,620.1 L401.4,618.6 L401.9,621.2 L402.4,618.2 L403.0,624.7 L403.5,624.0 L404.0,624.5 L404.5,621.5 L405.1,624.2 L405.6,626.7 L406.0,623.2 L406.5,621.1 L406.9,622.6 L407.4,617.8 L407.8,623.8 L408.2,622.3 L408.7,618.3 L409.1,622.0 L409.6,622.4 L410.0,621.0 L410.5,620.6 L410.9,621.9 L411.3,618.8 L411.8,620.7 L412.2,617.1 L412.7,615.7 L413.1,616.0 L413.2,615.1 L413.3,618.6 L413.4,617.0 L413.6,619.8 L413.7,620.3 L413.8,623.5 L413.9,624.4 L414.0,620.3 L414.1,621.7 L414.2,622.3 L414.4,622.0 L414.5,627.5 L414.6,626.9 L414.7,624.6 L414.8,622.9 L414.9,625.0 L415.0,626.9 L415.1,630.6 L415.3,625.5 L415.4,631.6 L415.5,626.4 L415.6,630.6 L416.1,627.9 L416.6,629.7 L417.1,626.1 L417.6,632.4 L418.1,631.6 L418.6,629.8 L419.1,628.0 L419.6,632.4 L420.1,632.8 L420.6,630.3 L421.1,634.5 L421.6,633.6 L422.1,631.9 L422.6,633.0 L423.1,630.0 L423.4,636.9 L423.7,638.0 L423.9,636.2 L424.2,634.6 L424.5,635.4 L424.8,637.6 L425.0,637.0 L425.3,639.9 L425.6,638.1 L425.9,642.2 L426.2,643.4 L426.4,640.4 L426.7,640.5 L427.0,636.7 L427.3,643.3 L427.5,644.5 L427.8,642.4 L428.1,647.1 L428.5,644.0 L428.9,643.5 L429.3,648.0 L429.7,647.7 L430.1,643.2 L430.5,646.4 L430.9,645.7 L431.3,648.3 L431.6,649.6 L432.0,648.8 L432.4,650.5 L432.8,652.5 L433.2,650.6 L433.6,649.2 L434.0,650.2 L434.4,654.4 L434.8,656.6 L435.1,653.3 L435.4,655.0 L435.7,653.1 L436.1,654.1 L436.4,657.7 L436.7,655.2 L437.0,657.1 L437.3,657.5 L437.6,660.1 L437.9,658.8 L438.3,658.7 L438.6,658.7 L438.9,658.8 L439.2,662.4 L439.5,665.2 L439.8,658.2 L440.1,664.0 L440.5,660.4 L440.8,661.7 L441.1,662.8 L441.4,663.1 L441.7,662.7 L442.1,661.8 L442.4,666.1 L442.7,659.1 L443.1,660.2 L443.4,659.4 L443.7,660.8 L444.1,657.4 L444.4,659.4 L444.7,659.2 L445.1,662.4 L445.4,659.3 L445.7,657.4 L446.1,657.2 L446.4,660.1 L446.8,655.7 L447.1,654.1 L447.5,653.7 L447.8,653.7 L448.2,655.6 L448.6,651.4 L448.9,651.7 L449.3,652.3 L449.7,650.0 L450.0,652.6 L450.4,650.0 L450.8,651.2 L451.1,650.7 L451.5,652.2 L451.8,652.2 L452.2,646.4 L452.4,646.1 L452.6,647.0 L452.9,650.8 L453.1,651.5 L453.3,651.0 L453.5,651.5 L453.7,655.2 L454.0,654.5 L454.2,653.7 L454.4,655.1 L454.6,651.4 L454.9,657.3 L455.1,659.7 L455.3,656.4 L455.5,655.8 L455.7,659.7 L456.0,656.9 L456.2,658.6 L456.4,660.2 L456.6,658.1 L456.8,659.2 L457.0,653.4 L457.2,651.8 L457.4,657.5 L457.6,656.5 L457.8,655.3 L458.0,653.5 L458.2,653.8 L458.4,654.0 L458.5,650.2 L458.7,652.4 L458.9,649.8 L459.1,654.9 L459.3,650.9 L459.5,650.1 L459.7,651.0 L459.9,650.2 L460.1,649.7 L460.3,645.9 L460.5,646.9 L460.8,648.9 L461.1,648.1 L461.4,648.4 L461.7,647.6 L462.1,649.6 L462.4,652.5 L462.7,647.9 L463.0,648.1 L463.3,648.9 L463.6,648.7 L463.9,654.9 L464.2,656.6 L464.5,654.4 L464.8,654.1 L465.2,657.2 L465.5,657.0 L465.8,650.9 L466.1,655.8 L466.4,661.4 L466.8,656.2 L467.2,656.1 L467.6,656.8 L468.0,661.6 L468.3,658.1 L468.7,660.3 L469.1,662.4 L469.5,660.8 L469.9,661.0 L470.3,659.4 L470.7,659.5 L471.1,664.6 L471.4,660.4 L471.8,665.6 L472.2,666.4 L472.6,667.4 L473.0,664.5 L473.2,663.8 L473.3,666.3 L473.5,669.2 L473.7,668.3 L473.9,668.8 L474.0,668.1 L474.2,670.8 L474.4,665.7 L474.5,667.8 L474.7,673.8 L474.9,672.2 L475.0,673.3 L475.2,668.7 L475.4,671.4 L475.5,672.8 L475.7,674.0 L475.9,677.1 L476.1,674.2 L476.2,676.2 L476.4,675.1 L476.7,676.6 L477.0,678.3 L477.3,678.9 L477.6,680.6 L477.9,676.6 L478.2,681.2 L478.5,681.0 L478.9,679.1 L479.2,683.8 L479.5,680.4 L479.8,681.5 L480.1,683.8 L480.4,686.1 L480.7,683.0 L481.0,687.2 L481.3,685.6 L481.8,683.6 L482.3,686.9 L482.8,685.9 L483.3,684.7 L483.8,686.2 L484.3,689.3 L484.7,688.0 L485.1,687.3 L485.4,689.9 L485.8,686.0 L486.2,690.5 L486.6,692.4 L487.0,687.9 L487.3,688.5 L487.7,689.5 L488.1,691.2 L488.5,690.7 L488.9,692.6 L489.2,691.1 L489.6,694.2 L490.0,695.2 L490.4,695.5 L490.8,693.9 L491.2,697.2 L491.5,693.0 L491.9,695.2 L492.3,696.8 L492.7,700.0 L493.1,697.2 L493.4,699.7 L493.8,702.2 L494.2,703.3 L494.4,702.3 L494.7,696.7 L494.9,698.3 L495.2,698.2 L495.4,698.0 L495.7,697.1 L495.9,695.3 L496.2,695.1 L496.4,691.8 L496.6,695.3 L496.9,694.0 L497.1,691.7 L497.4,695.8 L497.6,691.7 L497.9,689.9 L498.1,691.8 L498.4,690.9 L498.6,690.8 L498.8,689.9 L499.1,692.2 L499.3,691.5 L499.5,694.2 L499.8,693.0 L500.0,691.3 L500.3,691.5 L500.5,695.2 L500.7,696.5 L501.0,692.3 L501.2,697.0 L501.4,696.2 L501.7,697.5 L501.9,695.9 L502.2,695.9 L502.4,697.5 L502.6,697.6 L502.9,698.9 L503.1,700.5 L503.3,699.8 L503.5,702.9 L503.7,696.7 L504.0,697.2 L504.2,697.7 L504.4,698.1 L504.6,694.3 L504.8,692.9 L505.0,695.7 L505.3,695.4 L505.5,695.2 L505.7,694.7 L505.9,689.9 L506.1,694.4 L506.3,691.5 L506.6,695.3 L506.8,689.8 L507.0,685.8 L507.2,689.2 L507.4,689.3 L507.6,688.9 L507.9,688.1 L508.1,686.1 L508.3,683.3 L508.5,685.7 L508.7,686.0 L508.9,685.9 L509.1,687.8 L509.3,687.7 L509.5,684.9 L509.7,687.8 L509.9,688.4 L510.1,690.1 L510.3,694.3 L510.5,691.6 L510.8,693.3 L511.0,688.7 L511.2,695.8 L511.4,692.9 L511.6,695.6 L511.8,693.0 L512.0,695.6 L512.2,697.8 L512.4,696.8 L512.6,697.8 L512.8,696.5 L513.0,697.1 L513.0,699.7 L513.0,699.4 L513.1,700.6 L513.1,699.6 L513.1,700.8 L513.1,703.6 L513.2,705.5 L513.2,702.6 L513.2,702.7 L513.2,704.8 L513.3,707.0 L513.3,706.3 L513.3,708.5 L513.3,706.6 L513.4,705.7 L513.4,704.5 L513.4,710.5 L513.4,709.9 L513.4,708.8 L513.5,711.3 L513.5,709.0 L513.5,713.9 L513.5,714.5 L513.6,715.3 L513.6,712.8 L513.6,717.1 L513.6,716.5 L513.7,718.6 L513.7,712.8 L513.7,718.5 L513.7,719.9 L513.8,717.4 L513.8,720.4 L513.8,719.4 L514.0,722.6 L514.1,719.9 L514.3,721.0 L514.5,719.2 L514.7,726.1 L514.8,721.1 L515.0,721.2 L515.2,722.1 L515.3,724.7 L515.5,725.2 L515.7,726.5 L515.9,729.3 L516.0,728.8 L516.2,724.6 L516.4,728.4 L516.5,728.3 L516.7,730.7 L516.9,730.1 L517.1,733.0 L517.2,731.3 L517.4,735.5 L517.5,730.4 L517.7,735.1 L517.9,735.2 L518.0,732.6 L518.1,732.0 L518.3,733.9 L518.5,736.5 L518.6,739.6 L518.8,734.1 L518.9,737.0 L519.0,735.7 L519.2,740.3 L519.4,739.7 L519.5,740.0 L519.6,742.0 L519.8,741.7 L520.0,744.6 L520.1,741.8 L520.1,741.8 L520.1,743.6 L520.1,744.1 L520.1,747.3 L520.1,744.6 L520.1,745.0 L520.1,745.3 L520.1,745.7 L520.1,744.0 L520.1,748.7 L520.1,750.1 L520.1,750.0 L520.1,748.8 L520.1,752.7 L520.1,752.9 L520.1,752.6 L520.1,754.0 L520.1,753.1 L520.1,754.8 L520.1,755.6 L520.1,752.8 L520.1,754.8 L520.1,755.0 L520.1,757.8 L520.1,752.6 L520.1,758.8 L520.1,758.8 L520.1,759.1 L520.1,760.9 L520.1,757.8 L520.1,761.7 L520.1,760.4 L520.1,761.3 L520.1,765.8 L520.1,763.1 L520.1,766.4 L520.1,764.9 L520.1,765.0 L520.1,765.5 L520.1,764.0 L520.1,766.8 L520.4,768.2 L520.7,771.3 L520.9,770.5 L521.2,771.2 L521.5,768.3 L521.8,769.3 L522.0,772.0 L522.3,772.8 L522.6,770.3 L522.9,774.9 L523.1,772.2 L523.4,774.5 L523.7,773.6 L523.7,776.6 L523.7,777.5 L523.7,778.4 L523.7,775.2 L523.7,777.9 L523.7,782.6 L523.7,778.9 L523.7,780.4 L523.7,780.4 L523.7,779.7 L523.7,784.7 L523.7,785.0 L523.7,781.2 L523.7,784.2 L523.7,787.5 L523.7,785.4 L523.7,785.2 L523.7,787.6 L523.7,787.9 L523.7,784.5 L523.7,785.9 L523.7,791.3 L523.7,787.7 L523.7,789.3 L523.7,788.7 L523.7,794.4 L524.1,788.7 L524.4,792.1 L524.8,791.5 L525.1,792.2 L525.5,790.9 L525.9,792.3 L526.2,794.0 L526.6,795.4 L526.9,791.9 L527.3,796.2 L527.3,794.9 L527.4,797.2 L527.4,797.0 L527.4,798.3 L527.5,798.6 L527.5,800.7 L527.5,800.4 L527.6,797.7 L527.6,796.9 L527.6,799.4 L527.7,803.4 L527.7,800.1 L527.8,802.1 L527.8,808.3 L527.8,804.6 L527.9,805.5 L527.9,807.2 L527.9,808.4 L528.0,806.8 L528.0,808.6 L528.0,805.0 L528.1,810.3 L528.1,811.4 L528.1,807.5 L528.2,813.3 L528.2,815.9 L528.3,807.7 L528.4,812.9 L528.4,816.7 L528.5,815.8 L528.6,813.7 L528.7,814.5 L528.7,815.5 L528.8,818.2 L528.9,815.8 L529.0,815.2 L529.0,818.9 L529.1,817.7 L529.2,823.2 L529.2,818.4 L529.3,821.6 L529.4,821.2 L529.5,819.3 L529.5,821.8 L529.6,819.5 L529.7,824.8 L529.8,822.7 L529.9,822.8 L529.9,822.7 L530.0,829.2 L530.1,828.0 L530.1,825.6 L530.2,827.9 L530.3,830.0 L530.4,830.5 L530.5,830.0 L530.5,826.5 L530.6,834.6 L530.7,831.5 L530.8,835.1 L530.8,830.4 L530.9,835.2 L531.0,836.8 L531.1,837.1 L531.2,832.9 L531.4,835.5 L531.5,839.6 L531.6,835.5 L531.7,839.1 L531.8,838.0 L531.9,836.0 L532.1,841.4 L532.2,842.3 L532.3,842.0 L532.4,841.9 L532.5,844.0 L532.6,838.6 L532.8,843.1 L532.9,847.1 L533.0,845.3 L533.1,847.1 L533.2,845.0 L533.4,846.8 L533.5,844.4 L533.6,848.4 L533.7,848.5 L533.8,847.8 L533.9,849.1 L534.0,849.9 L534.2,850.7 L534.3,852.4 L534.4,853.5 L534.7,846.7 L535.0,850.9 L535.2,852.1 L535.5,847.0 L535.8,848.3 L536.1,852.9 L536.4,846.3 L536.6,849.0 L536.9,846.9 L537.2,843.0 L537.5,844.8 L537.8,841.1 L538.1,843.5 L538.3,845.4 L538.6,844.4 L538.9,843.1 L538.9,840.8 L539.0,842.6 L539.0,843.1 L539.1,841.6 L539.1,841.4 L539.2,839.8 L539.2,839.1 L539.3,835.8 L539.3,840.0 L539.4,834.3 L539.4,834.0 L539.5,833.8 L539.5,833.1 L539.6,836.6 L539.6,832.9 L539.7,832.2 L539.7,831.6 L539.8,831.5 L539.8,833.6 L539.8,833.3 L539.9,828.8 L539.9,832.5 L540.0,829.7 L540.0,828.5 L540.1,829.9 L540.1,826.9 L540.2,826.7 L540.2,825.7 L540.3,822.5 L540.3,821.7 L540.4,821.7 L540.4,821.2 L540.5,821.2 L540.5,820.7 L540.6,823.3 L540.6,820.6 L540.7,821.5 L540.7,820.0 L540.9,817.0 L541.1,817.6 L541.3,814.5 L541.5,813.5 L541.7,817.1 L541.9,815.6 L542.1,815.2 L542.3,816.4 L542.5,811.2 L542.7,813.0 L542.9,808.2 L543.1,810.3 L543.3,812.6 L543.5,807.8 L543.7,807.7 L543.9,809.0 L544.1,812.4 L544.3,810.0 L544.5,807.5 L544.6,808.5 L544.8,806.8 L545.0,805.3 L545.2,804.4 L545.3,805.8 L545.5,804.1 L545.7,805.2 L545.8,802.0 L546.0,804.1 L546.2,801.1 L546.4,803.7 L546.5,802.7 L546.7,798.7 L546.9,804.1 L547.0,799.7 L547.2,797.0 L547.4,795.3 L547.6,797.3 L547.7,796.8 L547.9,794.5 L548.1,794.4 L548.3,796.2 L548.5,795.5 L548.7,796.9 L548.9,797.0 L549.1,800.2 L549.3,794.9 L549.5,804.5 L549.7,800.2 L549.9,801.5 L550.1,799.6 L550.3,804.9 L550.5,803.0 L550.7,803.2 L550.9,802.6 L551.1,806.2 L551.3,806.5 L551.5,804.9 L551.7,810.0 L551.9,805.5 L552.1,810.3 L552.3,808.8 L552.4,806.4 L552.4,809.2 L552.5,811.4 L552.5,810.1 L552.6,811.7 L552.6,812.0 L552.7,813.6 L552.8,812.1 L552.8,817.7 L552.9,815.3 L552.9,818.2 L553.0,815.4 L553.0,816.9 L553.1,815.1 L553.1,817.8 L553.2,821.3 L553.3,819.5 L553.3,818.1 L553.4,819.1 L553.4,821.9 L553.5,821.1 L553.5,826.0 L553.6,823.1 L553.6,823.3 L553.7,825.3 L553.8,827.7 L553.8,822.1 L553.9,824.3 L553.9,825.0 L554.0,823.0 L554.0,827.2 L554.1,828.0 L554.5,830.4 L554.9,830.5 L555.3,831.0 L555.6,831.4 L556.0,829.9 L556.4,836.9 L556.8,834.7 L557.2,831.7 L557.6,831.0 L558.0,834.3 L558.3,835.8 L558.7,835.3 L559.1,836.4 L559.5,837.3 L559.7,836.8 L559.9,834.7 L560.1,836.2 L560.2,834.2 L560.4,840.2 L560.6,837.9 L560.8,839.9 L561.0,844.4 L561.2,839.2 L561.4,841.4 L561.6,840.3 L561.8,838.9 L561.9,845.1 L562.1,843.5 L562.3,844.2 L562.5,846.4 L562.7,845.1 L562.9,847.5 L563.1,849.2 L563.2,845.9 L563.4,848.8 L563.6,848.8 L563.8,851.2 L564.0,854.5 L564.0,848.3 L564.1,854.0 L564.1,851.8 L564.2,853.5 L564.2,853.5 L564.3,853.1 L564.3,851.5 L564.4,854.6 L564.4,853.5 L564.5,858.7 L564.5,857.3 L564.6,855.9 L564.6,856.9 L564.7,860.5 L564.7,856.1 L564.8,859.9 L564.8,860.4 L564.9,859.0 L564.9,863.4 L565.0,861.2 L565.0,864.7 L565.1,863.6 L565.1,862.6 L565.2,864.2 L565.2,867.0 L565.3,863.8 L565.3,864.7 L565.4,866.7 L565.4,868.6 L565.5,869.3 L565.5,866.8 L565.6,867.0 L565.6,869.8 L565.7,870.1 L565.7,871.7 L565.9,868.7 L566.2,871.3 L566.4,870.7 L566.6,876.6 L566.9,869.9 L567.1,872.7 L567.4,874.1 L567.6,872.2 L567.8,875.3 L568.1,875.3 L568.3,874.3 L568.5,877.0 L568.8,881.1 L569.0,879.3 L569.3,882.3 L569.5,882.7 L569.7,881.0 L570.0,880.7 L570.2,877.5 L570.6,878.3 L571.0,883.2 L571.3,883.4 L571.7,884.1 L572.1,882.5 L572.5,884.1 L572.9,883.1 L573.2,887.3 L573.6,886.3 L574.0,882.7 L574.4,885.9 L574.7,889.9 L575.1,886.0 L575.5,886.3 L575.9,887.1 L576.3,888.4 L576.6,890.1 L577.0,890.1 L577.4,891.2 L577.7,889.2 L578.0,891.1 L578.4,892.0 L578.7,887.0 L579.0,888.8 L579.3,888.3 L579.6,887.5 L579.9,886.6 L580.3,887.0 L580.6,885.2 L580.9,883.8 L581.2,883.0 L581.5,885.4 L581.8,882.5 L582.2,879.4 L582.5,881.5 L582.8,880.9 L583.2,883.1 L583.6,882.8 L583.9,878.2 L584.3,882.3 L584.7,880.0 L585.1,881.9 L585.5,877.3 L585.8,879.1 L586.2,878.7 L586.6,879.9 L587.0,873.8 L587.3,875.8 L587.7,875.5 L588.1,874.4 L588.5,873.6 L588.8,875.3 L589.2,876.4 L589.5,880.5 L589.9,877.3 L590.3,879.8 L590.6,877.2 L591.0,879.2 L591.3,879.1 L591.7,879.9 L592.1,877.4 L592.4,880.7 L592.8,886.2 L593.1,881.7 L593.5,879.6 L593.9,887.1 L594.2,884.0 L594.6,884.3 L594.9,881.1 L595.3,884.0 L595.5,883.6 L595.6,883.1 L595.8,880.9 L595.9,883.5 L596.1,879.1 L596.2,883.3 L596.4,880.5 L596.5,879.1 L596.7,876.3 L596.9,879.4 L597.0,878.9 L597.2,874.7 L597.3,880.2 L597.5,875.9 L597.6,872.8 L597.8,877.6 L597.9,872.6 L598.1,872.3 L598.2,870.7 L598.4,871.0 L598.6,871.7 L598.7,869.6 L598.9,871.6 L599.0,868.5 L599.2,869.7 L599.3,864.9 L599.5,867.7 L599.6,868.0 L599.8,868.7 L600.0,866.2 L600.2,866.6 L600.4,866.4 L600.6,863.5 L600.8,865.7 L601.0,864.6 L601.2,862.4 L601.4,860.5 L601.6,864.7 L601.8,863.8 L602.0,861.5 L602.2,862.6 L602.5,862.8 L602.7,859.1 L602.9,859.9 L603.1,859.3 L603.3,858.5 L603.5,856.8 L603.7,855.5 L603.9,857.3 L604.1,855.7 L604.3,857.9 L604.5,855.0 L604.7,853.7 L604.9,850.5 L605.1,852.1 L605.2,853.5 L605.3,853.3 L605.4,852.8 L605.5,849.2 L605.6,853.6 L605.7,856.2 L605.9,859.7 L606.0,855.0 L606.1,858.8 L606.2,855.9 L606.3,860.8 L606.4,859.2 L606.5,860.2 L606.6,861.5 L606.7,860.2 L606.8,860.8 L606.9,864.6 L607.0,860.5 L607.2,862.1 L607.3,866.0 L607.4,866.5 L607.5,864.1 L607.6,864.8 L607.7,867.1 L607.8,871.2 L608.4,870.6 L608.9,867.4 L609.5,867.1 L610.0,868.2 L610.6,865.3 L611.2,869.4 L611.7,868.3 L612.3,871.4 L612.9,868.0 L613.4,870.4 L614.0,868.8 L614.5,869.2 L615.1,873.9 L615.7,868.9 L616.2,870.7 L616.8,871.9 L617.2,874.4 L617.6,870.8 L618.0,869.0 L618.4,869.9 L618.8,872.3 L619.2,869.5 L619.6,869.3 L620.0,871.9 L620.4,865.4 L620.8,868.9 L621.2,864.6 L621.7,868.2 L622.1,866.3 L622.5,866.1 L622.9,865.0 L623.3,864.5 L623.7,857.8 L624.1,860.7 L624.5,866.8 L624.9,862.4 L625.3,861.5 L625.7,862.4 L626.1,863.6 L626.5,862.6 L626.9,864.8 L627.4,864.4 L627.8,862.6 L628.2,864.5 L628.6,866.7 L629.0,863.4 L629.4,865.7 L629.9,864.7 L630.3,866.1 L630.7,864.1 L631.1,867.8 L631.3,866.9 L631.5,870.8 L631.7,868.6 L631.9,873.9 L632.0,872.7 L632.2,869.6 L632.4,875.6 L632.6,872.4 L632.8,873.5 L633.0,870.8 L633.2,873.7 L633.4,873.2 L633.6,872.5 L633.8,873.5 L633.9,878.8 L634.1,875.7 L634.3,877.3 L634.5,876.3 L634.7,877.6 L634.9,878.0 L635.1,879.3 L635.3,880.2 L635.5,882.4 L635.6,881.2 L635.8,881.6 L636.0,880.8 L636.2,884.1 L636.4,884.4 L636.5,882.4 L636.7,878.9 L636.8,881.6 L637.0,877.2 L637.1,883.5 L637.2,880.1 L637.4,881.9 L637.5,878.4 L637.7,879.9 L637.8,881.0 L637.9,878.7 L638.1,874.5 L638.2,872.9 L638.4,874.2 L638.5,875.1 L638.6,871.8 L638.8,869.8 L638.9,871.7 L639.1,872.0 L639.2,868.1 L639.4,870.8 L639.5,872.0 L639.6,867.6 L639.8,869.6 L639.9,868.5 L640.1,868.6 L640.2,868.1 L640.3,865.0 L640.5,867.4 L640.6,869.8 L640.8,865.9 L640.9,861.8 L641.1,864.5 L641.4,869.4 L641.6,865.9 L641.8,867.2 L642.0,865.0 L642.2,865.0 L642.5,868.5 L642.7,869.9 L642.9,868.5 L643.1,871.1 L643.4,870.3 L643.6,867.5 L643.8,871.6 L644.0,873.9 L644.3,877.8 L644.5,871.0 L644.7,875.2 L644.9,875.8 L645.2,876.5 L645.4,876.6 L645.6,878.7 L645.8,877.5 L646.0,873.3 L646.3,872.4 L646.5,873.4 L646.7,870.0 L646.9,872.6 L647.1,873.2 L647.3,870.0 L647.6,870.0 L647.8,868.6 L648.0,869.7 L648.2,869.8 L648.4,866.3 L648.6,869.5 L648.9,865.2 L649.1,866.7 L649.3,866.5 L649.5,863.5 L649.7,864.2 L649.9,862.1 L650.2,865.6 L650.4,862.8 L650.6,859.6 L650.8,863.4 L651.3,860.7 L651.7,864.7 L652.2,860.3 L652.6,861.4 L653.1,857.5 L653.5,858.8 L654.0,858.5 L654.4,860.1 L654.9,860.6 L655.3,857.7 L655.8,856.8 L656.2,854.8 L656.7,854.8 L657.2,855.5 L657.7,857.5 L658.2,858.6 L658.7,854.2 L659.2,852.9 L659.7,852.0 L660.3,855.1 L660.8,855.9 L661.3,854.0 L661.8,855.6 L662.3,852.1 L662.8,850.8 L663.3,851.6 L663.6,848.3 L663.9,849.6 L664.1,848.4 L664.4,845.3 L664.7,848.5 L665.0,849.0 L665.2,849.9 L665.5,846.5 L665.8,848.5 L666.1,844.1 L666.4,847.5 L666.6,843.2 L666.9,843.8 L667.2,840.8 L667.5,846.3 L667.7,841.5 L668.0,844.0 L668.3,841.1 L668.8,841.3 L669.2,841.8 L669.7,837.6 L670.1,840.3 L670.6,838.3 L671.0,836.6 L671.5,840.2 L671.9,837.3 L672.4,839.8 L672.8,837.0 L673.3,835.6 L673.6,834.6 L673.9,835.2 L674.1,833.4 L674.4,836.0 L674.7,832.4 L675.0,835.7 L675.2,831.7 L675.5,831.8 L675.8,830.1 L676.1,835.4 L676.4,826.2 L676.6,831.3 L676.9,831.4 L677.2,830.9 L677.5,831.6 L677.7,830.5 L678.0,823.7 L678.3,826.7 L678.6,824.0 L678.9,825.0 L679.2,824.4 L679.5,826.4 L679.8,825.4 L680.1,823.2 L680.4,821.1 L680.7,822.9 L681.0,821.8 L681.3,820.3 L681.6,822.3 L681.9,822.7 L682.2,817.9 L682.5,821.5 L682.8,816.3 L683.1,817.0 L683.4,814.2 L683.7,817.5 L684.0,819.7 L684.3,813.4 L684.6,813.9 L684.9,812.6 L685.4,814.5 L685.9,816.2 L686.5,810.9 L687.0,814.9 L687.5,816.9 L688.0,812.2 L688.6,812.4 L689.1,813.3 L689.6,808.0 L690.1,809.7 L690.7,812.2 L691.2,810.9 L691.7,812.0 L692.2,808.3 L692.8,809.6 L693.3,808.1 L693.8,807.1 L694.4,810.4 L694.9,812.2 L695.5,806.8 L696.0,809.0 L696.6,809.2 L697.1,810.4 L697.7,806.1 L698.2,804.2 L698.8,807.8 L699.4,805.1 L699.9,803.9 L700.3,805.2 L700.7,805.3 L701.1,805.1 L701.4,803.9 L701.8,799.7 L702.2,799.0 L702.6,803.6 L703.0,804.9 L703.4,802.7 L703.7,799.1 L704.1,802.6 L704.5,798.3 L704.9,802.3 L705.5,800.0 L706.1,800.9 L706.7,797.3 L707.3,800.0 L707.9,794.5 L708.5,800.8 L709.0,795.6 L709.6,797.7 L710.2,799.4 L710.8,799.2 L711.4,797.4 L712.0,793.9 L712.6,799.3 L713.2,795.8 L713.6,793.2 L713.9,798.4 L714.3,800.3 L714.6,793.8 L715.0,796.2 L715.4,795.5 L715.7,793.8 L716.1,793.8 L716.4,792.6 L716.8,787.4 L717.2,789.5 L717.5,789.5 L717.9,788.2 L718.3,789.6 L718.6,788.8 L719.0,789.8 L719.3,792.3 L719.7,786.0 L720.1,788.5 L720.4,790.0 L720.8,785.9 L721.1,782.2 L721.5,784.8 L721.9,786.9 L722.2,785.2 L722.5,780.6 L722.9,783.6 L723.2,782.2 L723.6,781.0 L724.0,783.2 L724.3,776.0 L724.6,783.5 L725.0,783.7 L725.4,778.8 L725.7,777.1 L726.0,775.7 L726.4,778.9 L726.8,776.5 L727.1,773.1 L727.4,772.5 L727.8,777.2 L728.1,777.5 L728.5,772.5 L728.9,777.6 L729.2,773.1 L729.5,773.9 L729.9,771.2 L730.5,775.5 L731.0,773.3 L731.6,773.9 L732.1,775.0 L732.7,773.1 L733.2,777.6 L733.8,775.8 L734.3,774.1 L734.9,773.3 L735.5,776.3 L736.0,776.5 L736.6,776.1 L737.1,774.5 L737.7,779.6 L738.2,777.5 L738.8,779.6 L739.3,779.1 L739.9,777.8 L740.1,776.2 L740.4,774.4 L740.6,778.2 L740.9,775.4 L741.1,778.0 L741.4,777.6 L741.6,775.2 L741.9,773.7 L742.1,775.1 L742.3,775.9 L742.6,771.7 L742.8,772.7 L743.1,773.9 L743.3,768.2 L743.6,770.9 L743.8,768.7 L744.1,769.6 L744.3,769.7 L744.6,767.0 L744.8,767.6 L745.4,770.0 L746.0,768.0 L746.7,767.5 L747.3,766.6 L747.9,766.4 L748.5,768.3 L749.2,765.6 L749.8,765.1 L750.4,764.7 L751.0,765.1 L751.7,766.0 L752.3,765.5 L752.9,765.0 L753.5,769.9 L754.2,763.1 L754.8,765.4 L755.1,765.9 L755.4,764.0 L755.7,763.7 L756.0,760.4 L756.3,762.6 L756.6,763.4 L756.9,759.6 L757.2,761.6 L757.5,762.0 L757.8,759.9 L758.1,759.5 L758.5,755.6 L758.8,760.4 L759.1,762.2 L759.4,759.6 L759.7,759.9 L760.0,750.5 L760.3,753.9 L760.6,753.8 L760.9,754.4 L761.2,752.6 L761.5,749.5 L761.9,752.2 L762.3,748.9 L762.7,751.0 L763.1,753.0 L763.5,754.4 L763.9,751.4 L764.3,751.4 L764.7,745.7 L765.1,746.5 L765.5,749.7 L765.8,749.1 L766.2,747.8 L766.6,745.6 L767.0,745.6 L767.4,746.9 L767.8,749.2 L768.2,745.0 L768.6,740.0 L769.0,748.7 L769.4,745.1 L769.8,742.1 L770.4,746.3 L771.0,745.0 L771.6,742.7 L772.2,742.7 L772.8,745.7 L773.5,744.3 L774.1,747.1 L774.7,743.2 L775.3,743.1 L775.9,742.1 L776.5,744.4 L776.9,749.4 L777.4,741.3 L777.8,747.0 L778.2,744.3 L778.7,745.1 L779.1,751.4 L779.6,743.9 L780.0,747.3 L780.4,744.1 L780.9,747.8 L781.3,750.6 L781.7,750.0 L782.2,752.5 L782.6,752.4 L783.1,750.4 L783.5,751.9 L783.9,753.2 L784.4,751.9 L784.8,748.6 L785.1,751.6 L785.4,752.6 L785.6,751.9 L785.9,747.1 L786.2,748.6 L786.5,751.1 L786.7,747.6 L787.0,750.6 L787.3,745.8 L787.6,743.8 L787.9,744.6 L788.1,751.0 L788.4,744.4 L788.7,744.1 L789.0,745.8 L789.2,743.2 L789.5,739.6 L789.8,742.0 L790.2,744.8 L790.6,738.9 L791.0,739.0 L791.4,740.8 L791.7,741.1 L792.1,738.9 L792.5,743.3 L792.9,738.6 L793.3,736.2 L793.7,738.6 L794.1,738.2 L794.5,737.3 L794.8,736.3 L795.2,740.4 L795.6,738.8 L796.0,736.3 L796.4,734.5 L796.9,736.0 L797.4,735.7 L797.9,734.3 L798.5,731.5 L799.0,735.2 L799.5,733.7 L800.0,729.8 L800.5,733.3 L801.0,733.5 L801.6,732.4 L802.1,730.1 L802.6,729.9 L803.1,728.7 L803.5,728.7 L803.9,731.4 L804.3,729.8 L804.7,725.9 L805.1,728.6 L805.5,729.6 L805.9,729.7 L806.3,727.2 L806.7,724.0 L807.1,724.6 L807.4,723.5 L807.8,722.9 L808.2,721.2 L808.6,723.5 L809.0,723.3 L809.4,721.1 L809.8,725.7 L810.2,720.5 L810.6,722.6 L811.0,724.5 L811.4,719.6 L811.7,724.4 L812.0,722.0 L812.2,725.5 L812.5,723.9 L812.8,720.9 L813.1,721.9 L813.3,720.9 L813.6,723.3 L813.9,723.6 L814.2,726.1 L814.5,721.8 L814.7,722.8 L815.0,726.3 L815.3,726.4 L815.6,730.0 L815.8,728.1 L816.1,727.9 L816.4,730.9 L817.0,726.5 L817.6,730.6 L818.2,731.9 L818.8,731.8 L819.4,728.4 L820.1,733.5 L820.7,730.8 L821.3,730.9 L821.9,732.0 L822.5,732.8 L823.1,728.1 L823.4,729.5 L823.7,728.6 L824.0,728.4 L824.3,728.9 L824.6,728.7 L824.9,726.6 L825.2,728.0 L825.5,728.4 L825.8,725.8 L826.1,721.6 L826.4,720.0 L826.7,722.8 L827.0,722.6 L827.3,722.2 L827.6,722.1 L827.9,721.3 L828.2,723.6 L828.5,720.3 L828.8,718.9 L829.1,718.3 L829.4,720.1 L829.7,716.9 L830.3,717.5 L830.9,717.6 L831.5,716.0 L832.1,714.1 L832.6,714.6 L833.2,714.8 L833.8,714.7 L834.4,715.7 L835.0,717.2 L835.3,715.0 L835.7,712.7 L836.0,717.3 L836.4,714.2 L836.7,709.6 L837.1,713.1 L837.4,710.0 L837.8,711.5 L838.1,710.8 L838.5,711.9 L838.8,707.2 L839.2,710.5 L839.5,711.7 L839.9,706.3 L840.2,710.1 L840.6,709.1 L840.9,708.1 L841.3,710.2 L841.6,705.0 L842.1,705.2 L842.6,706.4 L843.1,706.5 L843.6,705.0 L844.1,705.2 L844.5,703.6 L845.0,704.4 L845.5,702.2 L846.0,703.3 L846.5,701.1 L847.0,701.0 L847.5,698.3 L847.7,700.7 L847.9,702.6 L848.2,701.8 L848.4,703.9 L848.6,706.7 L848.8,704.7 L849.1,704.1 L849.3,705.4 L849.5,702.9 L849.7,709.1 L850.0,710.8 L850.2,706.1 L850.4,714.9 L850.6,707.7 L850.8,711.9 L851.1,711.0 L851.3,714.6 L851.5,714.0 L851.7,714.7 L852.0,715.9 L852.2,714.2 L852.4,715.5 L852.6,713.0 L852.9,719.2 L853.1,716.0 L853.3,717.9 L853.6,716.4 L854.0,714.1 L854.3,713.1 L854.6,713.5 L855.0,713.5 L855.3,711.4 L855.6,713.2 L856.0,713.6 L856.3,712.9 L856.6,710.4 L857.0,711.0 L857.3,713.2 L857.7,711.9 L858.0,709.0 L858.3,708.3 L858.7,710.2 L859.0,703.8 L859.3,708.8 L859.7,704.9 L860.0,705.4 L860.4,706.3 L860.9,709.2 L861.3,704.5 L861.8,709.5 L862.2,711.9 L862.7,707.2 L863.1,710.7 L863.6,714.8 L864.0,710.1 L864.5,712.8 L864.9,710.7 L865.2,711.2 L865.5,705.7 L865.7,709.4 L866.0,713.2 L866.3,712.4 L866.6,707.0 L866.8,708.5 L867.1,706.3 L867.4,706.4 L867.7,704.3 L868.0,708.4 L868.2,703.9 L868.5,707.5 L868.8,703.1 L869.1,706.5 L869.3,702.2 L869.6,699.6 L869.9,700.2 L870.5,702.0 L871.1,703.7 L871.8,703.4 L872.4,699.8 L873.0,705.3 L873.6,702.8 L874.3,702.9 L874.9,701.1 L875.5,704.7 L876.1,702.4 L876.8,699.9 L877.4,702.8 L878.0,703.7 L878.6,702.5 L879.3,702.2 L879.9,703.8 L880.5,700.5 L881.1,705.0 L881.7,702.0 L882.3,700.4 L882.9,703.9 L883.5,706.3 L884.1,705.6 L884.7,700.7 L885.3,701.5 L885.9,704.7 L886.5,703.9 L887.2,704.2 L887.8,704.6 L888.4,699.8 L889.0,706.3 L889.6,700.7 L890.2,703.7 L890.8,701.4 L891.4,704.2 L892.0,705.9 L892.6,704.5 L893.2,701.9 L893.6,702.8 L894.1,702.2 L894.5,701.3 L894.9,703.0 L895.3,699.0 L895.8,701.3 L896.2,697.6 L896.6,700.6 L897.2,701.0 L897.8,700.0 L898.4,702.1 L899.0,702.9 L899.6,700.2 L900.2,700.9 L900.8,697.9 L901.3,698.8 L901.9,703.1 L902.5,696.8 L903.1,704.3 L903.7,703.0 L904.3,700.2 L904.9,702.1 L905.4,699.8 L905.9,703.6 L906.5,699.2 L907.0,703.0 L907.5,699.8 L908.0,697.3 L908.5,701.0 L909.0,700.1 L909.6,699.6 L910.1,700.4 L910.6,696.6 L911.1,694.3 L911.6,696.7 L912.2,697.3 L912.7,696.9 L913.2,694.3 L913.5,697.4 L913.8,694.3 L914.2,697.8 L914.5,699.3 L914.8,699.2 L915.1,700.2 L915.4,696.4 L915.8,699.5 L916.1,700.0 L916.4,700.5 L916.7,700.7 L917.0,702.4 L917.3,704.0 L917.7,704.9 L918.0,703.4 L918.3,703.7 L918.6,705.4 L918.9,702.0 L919.3,707.3 L919.6,704.9 L919.9,708.3 L920.3,707.0 L920.7,706.4 L921.1,708.1 L921.5,707.1 L921.9,705.6 L922.3,702.0 L922.7,701.5 L923.1,702.0 L923.5,701.9 L923.9,700.6 L924.3,699.6 L924.7,703.6 L925.0,696.9 L925.4,705.4 L925.8,699.6 L926.2,699.1 L926.6,694.6 L927.0,698.5 L927.4,698.7 L927.8,699.2 L928.2,692.9 L928.6,694.9 L929.0,699.0 L929.4,695.7 L929.8,697.6 L930.3,696.8 L930.7,698.3 L931.2,695.0 L931.7,698.0 L932.1,697.0 L932.6,693.0 L933.1,698.3 L933.5,696.5 L934.0,698.9 L934.2,697.7 L934.5,693.9 L934.7,699.4 L935.0,695.8 L935.2,696.0 L935.4,690.9 L935.7,694.6 L935.9,694.4 L936.1,694.5 L936.4,690.2 L936.6,694.8 L936.9,688.8 L937.1,692.2 L937.3,691.6 L937.6,691.4 L937.8,687.3 L938.0,689.8 L938.3,684.0 L938.5,689.2 L938.8,687.3 L939.0,687.9 L939.5,687.6 L940.0,683.9 L940.5,690.5 L941.0,688.4 L941.5,690.5 L942.0,684.2 L942.5,691.2 L943.0,688.3 L943.5,687.8 L944.0,691.3 L944.5,691.1 L945.0,695.0 L945.5,695.3 L946.0,690.9 L946.5,692.8 L947.1,692.8 L947.7,692.0 L948.3,689.9 L948.9,690.6 L949.6,689.3 L950.2,690.6 L950.8,693.2 L951.4,694.8 L952.0,687.7 L952.6,689.6 L953.2,691.4 L953.8,693.4 L954.4,693.2 L955.0,696.0 L955.7,693.5 L956.3,691.5 L956.9,695.2 L957.5,689.1 L958.1,692.6 L958.3,694.5 L958.5,695.9 L958.7,694.5 L959.0,697.8 L959.2,696.3 L959.4,694.9 L959.6,697.7 L959.8,700.0 L960.0,698.6 L960.2,699.1 L960.4,697.8 L960.6,698.1 L960.8,697.2 L961.0,690.5 L961.2,693.2 L961.4,694.9 L961.7,690.6 L961.9,693.1 L962.1,690.1 L962.3,692.5 L962.5,688.3 L962.7,692.3 L962.9,686.2 L963.1,687.1 L963.3,684.8 L963.5,692.6 L963.7,687.8 L963.9,684.5 L964.1,686.5 L964.3,685.9 L964.5,686.9 L964.8,682.8 L965.0,683.3 L965.2,685.3 L965.4,682.9 L965.6,685.6 L965.8,687.0 L966.0,683.8 L966.2,682.3 L966.4,680.6 L966.6,673.1 L966.9,680.8 L967.1,678.4 L967.4,679.1 L967.6,679.9 L967.9,684.6 L968.1,681.9 L968.4,687.0 L968.6,684.4 L968.9,684.1 L969.1,687.0 L969.4,684.8 L969.6,685.4 L969.9,686.9 L970.1,690.4 L970.4,685.3 L970.6,691.4 L970.9,690.5 L971.1,691.0 L971.4,688.5 L971.6,691.5 L971.9,694.3 L972.1,693.1 L972.4,694.1 L972.6,694.7 L972.9,694.4 L973.1,694.5 L973.4,695.0 L973.7,696.0 L973.9,694.8 L974.2,689.5 L974.5,689.7 L974.8,691.3 L975.1,691.9 L975.3,688.1 L975.6,690.4 L975.9,687.3 L976.2,692.0 L976.5,691.4 L976.7,688.3 L977.0,689.7 L977.3,685.5 L977.6,684.0 L977.8,685.0 L978.1,685.5 L978.4,683.6 L978.7,684.1 L979.0,681.2 L979.2,682.2 L979.5,683.9 L979.8,682.4 L980.3,679.8 L980.9,681.5 L981.4,682.2 L982.0,679.7 L982.5,680.4 L983.1,679.8 L983.6,681.2 L984.2,679.7 L984.8,680.7 L985.3,678.6 L985.9,679.2 L986.4,676.8 L986.6,677.3 L986.9,676.2 L987.1,680.1 L987.4,681.6 L987.6,682.4 L987.8,681.1 L988.1,682.2 L988.3,682.5 L988.5,680.6 L988.8,683.5 L989.0,684.0 L989.3,685.2 L989.5,683.6 L989.7,690.2 L990.0,687.5 L990.2,686.0 L990.4,689.2 L990.7,687.8 L990.9,689.1 L991.2,687.6 L991.4,691.2 L991.9,688.6 L992.4,688.2 L992.9,688.6 L993.4,686.9 L993.9,689.4 L994.4,686.1 L994.9,688.1 L995.4,685.3 L995.9,683.0 L996.4,685.7 L997.0,685.6 L997.5,686.2 L998.1,684.8 L998.6,683.6 L999.2,688.2 L999.7,689.0 L1000.3,686.5 L1000.8,687.1 L1001.4,684.7 L1001.9,688.4 L1002.5,685.8 L1003.0,688.8 L1003.6,691.0 L1004.1,688.0 L1004.7,688.3 L1005.0,686.7 L1005.3,686.8 L1005.5,685.7 L1005.8,688.4 L1006.1,685.0 L1006.4,687.2 L1006.6,687.0 L1006.9,684.5 L1007.2,683.9 L1007.5,683.6 L1007.7,682.0 L1008.0,685.9 L1008.3,678.8 L1008.6,681.2 L1008.8,683.4 L1009.1,678.6 L1009.4,683.4 L1009.7,677.8 L1009.9,679.3 L1010.2,680.7 L1010.5,680.2 L1010.8,678.3 L1011.1,681.1 L1011.4,677.2 L1011.8,681.5 L1012.1,678.4 L1012.4,680.9 L1012.7,679.8 L1013.0,681.6 L1013.3,683.2 L1013.6,685.2 L1013.9,686.0 L1014.3,686.7 L1014.6,686.6 L1014.9,684.7 L1015.2,689.4 L1015.5,685.7 L1015.9,684.4 L1016.2,681.4 L1016.5,682.2 L1016.8,682.6 L1017.2,682.6 L1017.5,678.9 L1017.8,681.5 L1018.2,679.8 L1018.5,680.3 L1018.8,679.5 L1019.1,679.3 L1019.5,679.7 L1019.8,680.0 L1020.1,675.9 L1020.4,677.6 L1020.8,676.6 L1021.1,681.0 L1021.4,677.8 L1021.8,678.0 L1022.1,677.8 L1022.4,676.5 L1022.8,681.3 L1023.1,676.3 L1023.4,677.0 L1023.8,680.2 L1024.1,678.4 L1024.4,683.6 L1024.8,684.6 L1025.1,681.8 L1025.4,679.8 L1025.8,686.6 L1026.1,687.2 L1026.4,684.4 L1026.8,686.2 L1027.1,684.9 L1027.4,685.2 L1027.8,685.6 L1028.1,683.0 L1028.7,689.6 L1029.4,687.7 L1030.0,687.1 L1030.6,687.0 L1031.3,687.2 L1031.9,686.9 L1032.6,691.0 L1033.2,684.1 L1033.8,684.3 L1034.5,686.7 L1035.1,682.8 L1035.5,687.8 L1036.0,686.2 L1036.4,682.6 L1036.8,686.5 L1037.3,686.1 L1037.7,692.4 L1038.2,687.1 L1038.6,690.6 L1039.0,688.7 L1039.5,690.6 L1039.9,688.5 L1040.3,693.4 L1040.8,692.8 L1041.2,689.6 L1041.7,694.6 L1042.1,693.6 L1042.3,690.4 L1042.4,689.2 L1042.6,690.8 L1042.8,691.0 L1042.9,688.2 L1043.1,688.8 L1043.3,690.3 L1043.4,684.4 L1043.6,690.5 L1043.8,688.1 L1043.9,684.2 L1044.1,686.3 L1044.3,681.2 L1044.4,685.5 L1044.6,687.8 L1044.8,685.9 L1045.0,684.6 L1045.1,681.1 L1045.3,685.1 L1045.5,680.4 L1045.6,679.4 L1045.8,677.5 L1046.0,678.6 L1046.1,676.1 L1046.3,678.4 L1046.5,676.0 L1046.6,675.5 L1046.8,677.0 L1047.1,680.0 L1047.3,677.4 L1047.6,676.8 L1047.8,677.6 L1048.1,680.3 L1048.3,676.7 L1048.6,680.4 L1048.8,678.1 L1049.1,680.3 L1049.3,684.6 L1049.6,682.3 L1049.8,685.4 L1050.1,684.5 L1050.3,681.9 L1050.6,687.1 L1050.8,682.4 L1051.1,683.8 L1051.3,686.8 L1051.6,686.5 L1051.8,689.6 L1052.1,691.2 L1052.3,690.5 L1052.6,689.1 L1052.9,689.3 L1053.2,689.2 L1053.4,688.8 L1053.7,685.5 L1054.0,688.7 L1054.3,685.0 L1054.6,686.4 L1054.8,682.3 L1055.1,684.4 L1055.4,681.6 L1055.7,682.8 L1056.0,676.9 L1056.3,680.2 L1056.5,679.3 L1056.8,683.2 L1057.1,677.3 L1057.4,680.9 L1057.7,676.2 L1057.9,680.7 L1058.2,681.1 L1058.5,677.2 L1058.7,677.9 L1059.0,677.9 L1059.2,677.9 L1059.4,676.8 L1059.7,682.1 L1059.9,683.7 L1060.2,683.3 L1060.4,677.9 L1060.6,681.4 L1060.9,683.7 L1061.1,683.7 L1061.3,684.5 L1061.6,679.1 L1061.8,685.2 L1062.1,684.2 L1062.3,688.2 L1062.5,689.3 L1062.8,690.0 L1063.0,687.1 L1063.2,690.0 L1063.5,690.4 L1063.7,686.9 L1064.0,687.5 L1064.2,689.5 L1064.4,693.5 L1064.7,694.4 L1064.9,690.1 L1065.1,690.8 L1065.2,690.4 L1065.4,692.8 L1065.6,692.1 L1065.7,690.9 L1065.9,686.5 L1066.1,688.9 L1066.2,685.2 L1066.4,687.5 L1066.6,680.4 L1066.7,684.2 L1066.9,687.1 L1067.1,687.4 L1067.2,684.3 L1067.4,680.3 L1067.6,684.0 L1067.7,684.0 L1067.9,681.3 L1068.0,678.8 L1068.2,679.3 L1068.4,683.6 L1068.5,678.3 L1068.7,679.7 L1068.9,677.2 L1069.0,678.3 L1069.2,677.3 L1069.4,671.6 L1069.5,675.8 L1069.7,673.1 L1069.9,679.0 L1070.0,677.2 L1070.2,676.5 L1070.6,671.6 L1071.1,674.7 L1071.5,674.5 L1072.0,674.8 L1072.4,678.3 L1072.9,675.5 L1073.3,676.3 L1073.8,679.3 L1074.2,676.4 L1074.7,677.8 L1075.1,674.8 L1075.6,679.3 L1076.0,681.1 L1076.6,678.7 L1077.2,678.8 L1077.8,679.6 L1078.4,678.9 L1079.0,679.4 L1079.5,674.6 L1080.1,676.4 L1080.7,679.4 L1081.3,676.1 L1081.9,676.7 L1082.4,676.6 L1083.0,679.6 L1083.5,678.0 L1084.1,681.6 L1084.6,677.8 L1085.1,678.7 L1085.7,682.0 L1086.2,681.5 L1086.7,675.9 L1087.3,680.5 L1087.8,679.8 L1088.4,678.0 L1088.9,680.8 L1089.3,683.2 L1089.8,676.8 L1090.2,680.2 L1090.7,679.0 L1091.1,684.6 L1091.5,683.6 L1092.0,676.0 L1092.4,676.4 L1092.8,677.8 L1093.3,673.3 L1093.7,677.2 L1094.2,675.5 L1094.6,674.9 L1095.0,675.6 L1095.5,679.4 L1095.9,673.2 L1096.1,674.3 L1096.3,672.0 L1096.6,674.2 L1096.8,677.1 L1097.0,676.3 L1097.2,677.2 L1097.4,677.1 L1097.7,677.0 L1097.9,677.3 L1098.1,681.0 L1098.3,680.5 L1098.5,678.2 L1098.7,683.1 L1099.0,683.7 L1099.2,682.6 L1099.4,682.8 L1099.7,685.8 L1100.0,679.6 L1100.3,682.4 L1100.6,683.1 L1100.9,677.9 L1101.2,678.4 L1101.5,680.3 L1101.8,678.0 L1102.1,675.9 L1102.4,676.7 L1102.7,675.4 L1103.0,676.7 L1103.2,674.9 L1103.5,676.5 L1103.8,673.4 L1104.1,674.1 L1104.4,674.5 L1104.7,674.9 L1105.0,670.8 L1105.3,671.4 L1105.6,670.7 L1105.9,673.8 L1106.2,671.9 L1106.5,669.1 L1106.7,670.9 L1106.9,671.8 L1107.1,671.7 L1107.2,675.5 L1107.4,669.9 L1107.6,677.8 L1107.8,677.4 L1108.0,676.8 L1108.2,675.0 L1108.4,672.9 L1108.5,678.3 L1108.7,680.9 L1108.9,679.4 L1109.1,681.4 L1109.3,679.4 L1109.5,681.9 L1109.7,681.0 L1109.9,680.3 L1110.0,679.1 L1110.2,681.1 L1110.4,683.9 L1110.6,684.7 L1110.8,683.6 L1111.0,682.5 L1111.2,683.0 L1111.4,681.9 L1111.6,681.2 L1111.8,679.0 L1112.0,679.7 L1112.2,678.4 L1112.4,676.4 L1112.6,677.9 L1112.8,674.3 L1113.0,675.6 L1113.2,672.5 L1113.4,673.2 L1113.6,676.9 L1113.8,677.7 L1114.0,674.3 L1114.2,671.9 L1114.4,667.7 L1114.6,670.9 L1114.8,672.0 L1115.0,670.3 L1115.2,668.6 L1115.4,670.6 L1115.6,667.4 L1115.8,668.6 L1116.2,668.0 L1116.5,668.2 L1116.9,673.2 L1117.3,673.0 L1117.6,672.1 L1118.0,669.2 L1118.4,673.3 L1118.8,672.9 L1119.1,674.1 L1119.5,675.5 L1119.9,671.5 L1120.2,674.9 L1120.6,675.3 L1121.0,676.3 L1121.3,676.6 L1121.7,675.8 L1122.1,679.2 L1122.4,675.6 L1122.8,682.3 L1123.2,680.5 L1123.6,680.1 L1123.9,677.0 L1124.3,677.5 L1124.7,677.7 L1125.1,681.5 L1125.4,682.5 L1125.8,683.4 L1126.4,682.2 L1127.0,681.4 L1127.6,677.3 L1128.2,680.3 L1128.8,682.5 L1129.4,680.5 L1130.0,681.0" stroke="#0000ff" stroke-width="5.6"/>
<path d="M113.0,421.2 L113.5,423.3 L114.0,420.2 L114.5,423.6 L115.1,421.5 L115.7,421.4 L116.3,424.7 L117.0,421.8 L117.6,421.4 L118.2,422.5 L118.8,423.1 L119.4,421.1 L120.0,422.0 L120.6,419.4 L121.2,420.3 L121.9,420.0 L122.5,418.5 L123.1,418.1 L123.7,417.8 L124.3,419.9 L124.9,419.9 L125.5,419.6 L126.2,420.1 L126.8,417.8 L127.4,419.7 L128.0,420.1 L128.3,420.4 L128.6,417.3 L129.0,417.4 L129.3,414.3 L129.6,416.2 L129.9,413.0 L130.3,413.7 L130.6,417.2 L130.9,411.3 L131.2,415.6 L131.6,414.3 L131.9,412.7 L132.2,413.4 L132.5,413.0 L132.9,413.3 L133.2,410.7 L133.5,409.6 L133.8,409.0 L134.2,407.9 L134.5,408.9 L134.8,407.1 L135.4,410.1 L136.0,405.3 L136.6,406.5 L137.2,406.7 L137.8,404.8 L138.4,411.2 L139.1,404.3 L139.7,407.6 L140.3,407.2 L140.9,410.6 L141.5,404.8 L142.1,409.6 L142.7,406.7 L143.3,407.6 L143.9,406.7 L144.5,408.7 L145.1,405.9 L145.7,407.5 L146.3,408.2 L147.0,410.5 L147.6,403.7 L148.2,409.9 L148.8,408.9 L149.4,406.6 L150.0,407.8 L150.6,406.6 L151.2,409.9 L151.8,407.6 L152.4,407.0 L153.0,406.9 L153.6,407.0 L154.3,407.0 L154.9,405.9 L155.5,410.6 L156.1,404.2 L156.7,401.5 L157.3,407.1 L157.6,406.5 L157.9,406.8 L158.2,405.3 L158.4,404.8 L158.7,405.0 L159.0,405.5 L159.3,402.7 L159.6,402.2 L159.8,405.4 L160.1,402.6 L160.4,399.6 L160.7,404.3 L161.3,402.0 L161.9,400.0 L162.5,399.2 L163.1,401.8 L163.7,400.1 L164.3,399.9 L165.0,399.7 L165.6,401.1 L166.2,403.9 L166.8,401.6 L167.4,400.1 L168.0,403.7 L168.6,402.9 L168.8,403.6 L169.0,403.5 L169.1,400.7 L169.3,400.2 L169.5,399.8 L169.7,397.4 L169.9,399.7 L170.0,400.2 L170.2,397.7 L170.4,396.5 L170.6,395.8 L170.7,394.4 L170.9,393.8 L171.1,393.8 L171.3,392.5 L171.5,392.6 L171.6,390.2 L171.8,392.7 L172.0,391.6 L172.5,390.0 L173.0,388.5 L173.5,392.5 L174.0,394.6 L174.5,392.0 L175.0,392.8 L175.5,393.0 L176.0,395.3 L176.5,393.1 L177.0,396.5 L177.5,394.8 L178.0,397.1 L178.5,396.0 L179.0,395.9 L179.5,394.2 L180.0,395.8 L180.5,396.9 L181.0,398.7 L181.5,398.4 L182.0,397.2 L182.4,398.5 L182.9,399.0 L183.3,396.8 L183.7,395.9 L184.2,395.5 L184.6,397.0 L185.0,396.2 L185.4,393.4 L185.9,395.1 L186.3,393.3 L186.7,392.4 L187.2,395.2 L187.6,394.1 L188.0,391.2 L188.5,392.1 L188.9,392.3 L189.4,390.1 L189.9,390.6 L190.4,391.5 L190.9,387.2 L191.4,390.3 L191.9,390.6 L192.4,389.9 L192.9,386.6 L193.3,388.9 L193.8,386.6 L194.3,388.6 L194.8,388.3 L195.3,387.3 L195.8,385.4 L196.3,385.3 L196.8,387.3 L197.1,385.0 L197.4,387.7 L197.7,388.3 L198.0,387.6 L198.3,392.4 L198.6,389.2 L198.9,393.0 L199.2,386.9 L199.5,387.1 L199.8,392.7 L200.1,392.7 L200.4,391.7 L200.7,392.7 L201.0,390.2 L201.3,392.8 L201.9,391.8 L202.4,392.8 L203.0,394.2 L203.5,392.5 L204.1,392.7 L204.7,390.6 L205.2,390.7 L205.8,391.3 L206.3,390.3 L206.9,392.4 L207.4,388.6 L207.9,392.6 L208.4,387.6 L208.8,390.5 L209.3,387.2 L209.8,390.6 L210.3,387.8 L210.8,387.8 L211.3,388.0 L211.8,385.4 L212.2,384.3 L212.7,382.4 L213.2,387.2 L213.7,383.7 L214.3,383.6 L214.8,384.3 L215.4,387.3 L215.9,381.1 L216.5,384.0 L217.1,382.8 L217.6,384.0 L218.2,380.1 L218.7,382.1 L219.3,383.8 L219.6,385.5 L220.0,386.1 L220.3,382.7 L220.7,384.7 L221.0,384.9 L221.4,383.4 L221.7,383.9 L222.1,387.9 L222.4,387.6 L222.8,387.5 L223.1,390.2 L223.5,387.2 L223.8,390.1 L224.1,388.8 L224.5,388.2 L224.8,388.6 L225.1,387.6 L225.5,387.2 L225.8,386.7 L226.1,388.9 L226.5,384.8 L226.8,386.4 L227.2,385.2 L227.5,383.2 L227.8,384.5 L228.2,381.4 L228.5,384.1 L228.8,380.4 L229.2,380.4 L229.5,381.2 L229.8,381.5 L230.2,381.2 L230.5,380.6 L230.9,379.3 L231.3,378.6 L231.7,381.5 L232.1,381.5 L232.5,380.0 L232.9,383.5 L233.3,382.7 L233.7,381.3 L234.1,384.0 L234.5,381.7 L234.9,382.8 L235.3,385.3 L235.7,382.7 L236.1,385.7 L236.5,383.9 L236.9,387.7 L237.3,385.8 L237.7,386.9 L238.2,383.7 L238.6,385.1 L239.1,386.8 L239.5,385.6 L239.9,381.5 L240.4,385.4 L240.8,385.0 L241.2,382.5 L241.7,384.9 L242.1,380.5 L242.6,381.7 L243.0,383.1 L243.4,383.0 L243.9,382.5 L244.3,378.3 L244.8,376.8 L245.2,379.8 L245.8,377.1 L246.4,379.4 L247.0,377.8 L247.6,381.8 L248.2,381.6 L248.8,381.4 L249.4,380.8 L250.0,381.0 L250.6,380.7 L251.2,382.0 L251.8,382.0 L252.4,382.6 L253.0,381.4 L253.6,385.3 L254.2,383.0 L254.7,384.4 L255.3,384.0 L255.8,380.1 L256.4,378.5 L256.9,382.9 L257.4,380.0 L258.0,380.4 L258.5,379.5 L259.0,379.8 L259.6,377.4 L260.1,378.8 L260.7,377.9 L261.2,378.3 L261.7,374.3 L262.3,379.0 L262.8,377.9 L263.3,374.3 L263.9,375.6 L264.4,376.5 L265.0,377.1 L265.5,375.8 L265.8,378.5 L266.2,376.9 L266.5,375.8 L266.8,376.8 L267.1,379.6 L267.5,378.0 L267.8,380.9 L268.1,381.7 L268.5,381.5 L268.8,382.7 L269.1,381.3 L269.5,382.1 L269.8,381.7 L270.1,382.2 L270.4,381.2 L270.8,383.4 L271.1,383.1 L271.3,383.1 L271.6,386.2 L271.8,387.2 L272.1,386.5 L272.3,389.8 L272.6,389.7 L272.8,390.4 L273.0,388.3 L273.3,387.5 L273.5,391.3 L273.8,391.5 L274.0,392.7 L274.3,392.8 L274.5,394.7 L275.1,392.0 L275.6,393.2 L276.2,390.4 L276.8,387.9 L277.3,390.6 L277.9,393.4 L278.4,388.0 L279.0,392.1 L279.6,389.1 L280.1,389.2 L280.7,389.7 L281.2,389.7 L281.8,387.5 L282.4,389.0 L282.9,389.2 L283.5,389.5 L284.1,387.1 L284.8,391.0 L285.4,391.7 L286.1,392.7 L286.7,386.8 L287.4,389.4 L288.0,386.3 L288.3,390.5 L288.6,391.3 L288.9,389.1 L289.1,389.0 L289.4,392.4 L289.7,393.7 L290.0,391.9 L290.3,393.3 L290.5,390.3 L290.8,393.8 L291.1,395.7 L291.4,396.2 L291.9,398.2 L292.5,393.6 L293.0,391.5 L293.5,395.5 L294.1,393.6 L294.6,394.7 L295.1,395.1 L295.7,394.6 L296.2,395.7 L296.7,395.2 L297.2,390.1 L297.8,392.4 L298.3,395.4 L298.8,391.2 L299.4,393.1 L299.9,391.2 L300.4,390.3 L301.0,393.2 L301.5,392.1 L301.9,390.5 L302.3,392.8 L302.7,389.7 L303.1,391.1 L303.5,394.2 L303.9,393.3 L304.3,392.0 L304.7,394.8 L305.1,395.1 L305.5,397.1 L305.9,397.0 L306.3,395.5 L306.7,395.7 L307.1,396.7 L307.5,397.0 L307.9,400.2 L308.3,400.8 L308.9,400.2 L309.4,398.5 L310.0,397.2 L310.5,398.8 L311.1,396.6 L311.7,397.3 L312.2,394.1 L312.8,395.8 L313.3,398.6 L313.9,394.4 L314.5,393.4 L315.0,395.3 L315.6,398.0 L316.1,397.5 L316.7,394.3 L317.3,393.9 L317.8,394.3 L318.4,392.8 L318.9,394.1 L319.5,393.3 L319.8,392.0 L320.2,393.9 L320.5,395.0 L320.9,394.5 L321.2,394.6 L321.6,398.4 L321.9,400.5 L322.3,397.5 L322.6,397.8 L323.0,399.8 L323.3,399.2 L323.7,398.8 L324.0,402.8 L324.6,398.8 L325.2,399.1 L325.8,399.0 L326.4,398.5 L327.0,399.3 L327.6,400.4 L328.2,401.7 L328.8,400.2 L329.4,399.0 L329.9,396.8 L330.5,398.5 L331.1,396.9 L331.7,398.1 L332.3,399.7 L332.9,398.2 L333.5,397.4 L334.1,396.4 L334.7,397.3 L335.3,397.4 L335.8,396.1 L336.2,397.2 L336.7,399.8 L337.2,396.1 L337.6,398.4 L338.1,397.7 L338.6,402.4 L339.0,401.3 L339.5,401.5 L340.0,401.7 L340.4,401.9 L340.9,402.3 L341.4,399.7 L341.8,403.0 L342.3,403.9 L342.7,401.1 L343.2,405.1 L343.7,405.2 L344.1,402.1 L344.6,404.2 L345.1,404.8 L345.5,404.9 L346.0,406.7 L346.5,404.4 L346.9,406.5 L347.4,407.6 L347.9,408.8 L348.3,408.1 L348.8,408.0 L349.3,409.1 L349.7,404.3 L350.2,408.6 L350.6,406.1 L351.1,404.2 L351.5,405.0 L352.0,402.3 L352.4,401.6 L352.9,403.9 L353.3,402.7 L353.8,404.7 L354.2,401.6 L354.7,400.5 L355.1,400.6 L355.6,404.4 L355.9,402.3 L356.3,401.8 L356.6,401.7 L357.0,402.0 L357.3,404.0 L357.6,405.5 L358.0,407.1 L358.3,407.7 L358.6,406.8 L359.0,405.8 L359.3,406.0 L359.7,404.2 L360.0,406.8 L360.4,408.6 L360.8,406.9 L361.3,407.6 L361.7,404.3 L362.1,407.5 L362.5,406.0 L362.9,405.1 L363.4,405.2 L363.8,400.5 L364.2,402.8 L364.6,401.7 L365.0,405.6 L365.4,401.9 L365.9,400.9 L366.3,402.6 L366.7,399.1 L366.9,403.7 L367.2,400.9 L367.4,402.5 L367.6,401.7 L367.9,405.1 L368.1,400.9 L368.4,406.1 L368.6,404.2 L368.8,406.2 L369.1,404.9 L369.3,407.7 L369.5,408.2 L369.8,409.5 L370.0,409.6 L370.5,410.5 L370.9,411.5 L371.4,409.7 L371.9,408.9 L372.4,409.2 L372.8,412.7 L373.3,411.4 L373.8,414.2 L374.2,413.0 L374.7,411.7 L375.2,415.2 L375.7,417.3 L376.1,414.3 L376.6,413.5 L377.0,414.1 L377.5,417.3 L377.9,415.4 L378.4,416.1 L378.8,418.3 L379.3,417.7 L379.7,418.3 L380.2,417.6 L380.6,417.9 L381.1,419.7 L381.5,420.1 L382.0,421.2 L382.4,419.9 L382.9,421.7 L383.3,422.4 L383.8,422.1 L384.4,423.3 L384.9,424.4 L385.4,423.4 L385.9,423.6 L386.5,422.3 L387.0,424.8 L387.5,424.5 L388.0,424.5 L388.6,424.1 L389.1,426.7 L389.7,429.6 L390.2,425.9 L390.8,425.1 L391.3,425.4 L391.9,423.4 L392.5,424.3 L393.0,422.8 L393.6,422.5 L394.1,423.6 L394.7,423.3 L395.2,422.5 L395.8,421.1 L396.1,422.3 L396.3,419.5 L396.6,421.9 L396.9,419.6 L397.1,419.6 L397.4,420.2 L397.6,419.3 L397.9,415.8 L398.2,416.9 L398.4,417.3 L398.7,414.4 L398.9,411.7 L399.2,414.9 L399.5,414.4 L399.7,414.6 L400.0,413.4 L400.5,413.1 L401.0,412.8 L401.5,414.2 L402.0,412.4 L402.4,412.1 L402.9,410.2 L403.4,412.2 L403.9,409.6 L404.4,410.7 L404.9,405.7 L405.4,409.9 L405.9,409.8 L406.4,409.6 L406.9,412.8 L407.4,411.8 L407.9,411.4 L408.4,411.2 L408.9,415.5 L409.4,414.1 L409.9,414.3 L410.2,412.6 L410.5,416.4 L410.8,415.7 L411.1,414.9 L411.5,415.7 L411.8,413.8 L412.1,418.0 L412.4,415.7 L412.7,419.3 L413.0,417.8 L413.3,418.0 L413.6,420.1 L414.0,420.4 L414.3,418.8 L414.6,421.0 L414.9,422.6 L415.5,421.3 L416.1,419.7 L416.8,421.5 L417.4,420.5 L418.0,421.2 L418.6,422.3 L419.3,422.2 L419.9,422.1 L420.3,420.2 L420.7,423.9 L421.1,423.5 L421.6,423.6 L422.0,424.9 L422.4,428.2 L422.8,423.6 L423.2,423.5 L423.6,427.8 L424.0,425.7 L424.5,429.5 L424.9,426.4 L425.3,427.6 L425.7,430.2 L426.1,430.8 L426.5,430.5 L427.0,430.9 L427.4,430.5 L427.8,430.4 L428.2,431.3 L428.8,433.6 L429.5,432.6 L430.1,431.4 L430.8,431.9 L431.4,432.6 L432.0,433.1 L432.7,431.0 L433.3,431.0 L433.9,431.6 L434.6,435.1 L435.2,431.3 L435.9,432.9 L436.5,428.4 L437.0,432.5 L437.6,429.3 L438.1,430.2 L438.6,431.3 L439.2,432.4 L439.7,433.3 L440.3,434.0 L440.8,434.1 L441.3,433.5 L441.9,438.6 L442.4,435.5 L443.0,435.7 L443.6,437.6 L444.1,435.7 L444.7,434.8 L445.3,434.1 L445.9,436.3 L446.4,431.4 L447.0,431.3 L447.6,432.8 L448.2,429.1 L448.7,430.9 L449.3,433.6 L449.9,430.9 L450.2,431.3 L450.5,431.6 L450.8,428.2 L451.1,429.9 L451.4,428.0 L451.7,426.7 L452.0,427.5 L452.3,427.3 L452.6,426.2 L452.9,425.3 L453.2,427.3 L453.6,427.2 L454.0,425.7 L454.4,424.2 L454.9,422.3 L455.3,422.2 L455.7,421.2 L456.1,422.9 L456.5,423.5 L456.9,423.0 L457.3,421.1 L457.7,420.0 L458.1,420.5 L458.6,419.9 L459.0,420.2 L459.4,421.1 L459.8,417.2 L460.1,421.1 L460.4,413.9 L460.7,413.9 L461.1,413.8 L461.4,414.1 L461.7,414.8 L462.0,417.9 L462.3,413.0 L462.6,415.4 L462.9,412.5 L463.2,412.8 L463.6,410.5 L463.9,415.2 L464.2,411.0 L464.5,409.5 L464.8,413.6 L465.2,410.8 L465.6,411.7 L466.0,411.3 L466.3,410.7 L466.7,410.3 L467.1,412.8 L467.5,416.1 L467.9,414.7 L468.3,414.3 L468.6,416.8 L469.0,414.1 L469.4,418.3 L469.8,416.6 L470.2,415.7 L470.7,418.6 L471.1,418.8 L471.6,417.8 L472.0,419.2 L472.5,420.8 L472.9,422.0 L473.4,418.8 L473.8,416.5 L474.3,424.3 L474.7,421.1 L475.2,421.3 L475.6,423.1 L476.1,422.2 L476.5,425.0 L476.6,421.9 L476.8,424.2 L476.9,423.1 L477.1,428.1 L477.2,425.8 L477.4,428.6 L477.5,429.6 L477.7,426.1 L477.8,428.2 L478.0,430.3 L478.1,429.8 L478.3,430.1 L478.4,432.3 L478.6,433.0 L478.7,431.2 L478.9,432.5 L479.0,434.3 L479.4,434.1 L479.8,434.4 L480.2,432.9 L480.7,437.9 L481.1,435.2 L481.5,436.5 L481.9,436.5 L482.3,437.1 L482.8,437.7 L483.2,436.6 L483.6,439.0 L484.0,440.7 L484.4,439.9 L484.8,440.9 L485.2,441.0 L485.7,440.7 L486.1,444.0 L486.5,440.5 L487.1,442.3 L487.7,443.5 L488.3,442.4 L488.9,440.4 L489.5,440.4 L490.1,444.8 L490.6,440.9 L491.2,442.5 L491.8,443.5 L492.4,442.9 L493.0,440.0 L493.6,440.0 L494.2,442.9 L494.8,442.0 L495.4,442.5 L495.9,442.8 L496.4,442.6 L497.0,440.0 L497.6,439.2 L498.1,443.0 L498.6,440.3 L499.2,439.1 L499.8,437.6 L500.3,441.3 L500.8,438.2 L501.4,438.2 L502.1,440.8 L502.7,440.2 L503.4,440.5 L504.0,437.5 L504.7,434.9 L505.3,437.8 L506.0,438.8 L506.6,438.1 L507.3,440.5 L507.4,439.1 L507.6,436.2 L507.7,438.2 L507.8,436.4 L508.0,435.3 L508.1,437.2 L508.2,432.1 L508.4,435.8 L508.5,435.3 L508.6,429.7 L508.7,432.0 L508.9,431.5 L509.0,429.3 L509.1,429.6 L509.3,428.6 L509.4,429.3 L509.5,427.7 L509.7,424.6 L509.8,429.3 L509.9,429.4 L510.0,427.3 L510.1,430.6 L510.3,433.0 L510.4,427.9 L510.5,430.3 L510.6,430.7 L510.7,433.1 L510.8,432.3 L510.9,431.1 L511.1,436.0 L511.2,434.0 L511.3,436.3 L511.4,439.4 L511.5,435.1 L511.6,436.3 L511.7,439.0 L511.9,437.9 L512.0,439.5 L512.1,439.3 L512.2,444.4 L512.3,441.5 L512.5,441.7 L512.6,441.9 L512.7,443.0 L512.9,440.4 L513.0,443.2 L513.1,445.4 L513.3,442.9 L513.4,445.5 L513.5,445.9 L513.6,445.9 L513.8,451.3 L513.9,449.0 L514.0,449.1 L514.2,447.9 L514.3,449.9 L514.4,449.9 L514.6,450.8 L514.7,452.0 L514.7,456.2 L514.7,454.9 L514.7,456.1 L514.7,456.2 L514.7,459.1 L514.7,454.2 L514.7,453.8 L514.7,456.8 L514.7,457.4 L514.7,457.7 L514.7,457.2 L514.7,459.9 L514.7,462.2 L514.7,460.4 L514.7,460.3 L514.7,463.2 L514.7,461.4 L514.7,461.9 L514.7,463.6 L514.7,460.0 L514.7,467.3 L514.7,464.7 L514.7,466.3 L514.7,466.6 L514.7,467.3 L514.7,465.1 L514.7,470.7 L514.7,469.4 L514.7,469.6 L514.7,474.7 L514.7,468.3 L514.7,472.1 L514.7,471.3 L515.0,469.6 L515.4,475.6 L515.7,470.5 L516.1,473.7 L516.4,473.9 L516.7,474.8 L517.1,473.5 L517.4,477.7 L517.8,476.4 L518.1,474.5 L518.1,475.2 L518.1,478.2 L518.1,476.5 L518.1,479.6 L518.1,480.0 L518.1,479.2 L518.1,477.6 L518.1,479.2 L518.1,482.5 L518.1,481.7 L518.1,486.1 L518.1,483.0 L518.1,485.0 L518.1,486.0 L518.1,485.7 L518.1,486.6 L518.1,488.4 L518.1,487.1 L518.1,488.5 L518.1,488.0 L518.1,492.4 L518.1,490.0 L518.1,491.7 L518.1,486.2 L518.1,490.8 L518.1,490.4 L518.1,492.8 L518.1,492.7 L518.1,492.3 L518.1,494.2 L518.1,496.5 L518.1,497.5 L518.1,495.5 L518.1,498.7 L518.1,496.6 L518.1,499.2 L518.4,497.4 L518.7,501.0 L518.9,503.6 L519.2,499.9 L519.5,502.9 L519.8,499.2 L520.0,501.0 L520.3,506.8 L520.6,503.0 L520.6,504.5 L520.6,501.7 L520.6,504.9 L520.6,504.3 L520.6,508.0 L520.6,505.9 L520.6,511.4 L520.6,506.2 L520.6,509.0 L520.6,505.9 L520.6,509.1 L520.6,512.3 L520.6,510.7 L520.6,509.4 L520.6,512.9 L520.6,514.2 L520.6,514.0 L520.6,515.5 L520.6,512.2 L520.6,518.0 L520.6,516.8 L520.6,512.9 L520.6,519.9 L520.6,516.8 L520.6,518.9 L520.9,515.5 L521.1,518.2 L521.4,516.9 L521.7,521.7 L522.0,520.5 L522.2,520.0 L522.5,521.4 L522.8,524.4 L523.1,521.9 L523.4,524.6 L523.6,522.4 L523.9,522.1 L523.9,524.6 L524.0,525.6 L524.0,527.0 L524.1,528.8 L524.1,527.3 L524.2,528.0 L524.2,530.4 L524.3,530.5 L524.4,530.3 L524.4,531.4 L524.5,528.2 L524.5,531.4 L524.6,530.4 L524.6,533.0 L524.7,535.6 L524.7,532.1 L525.0,536.8 L525.3,535.0 L525.5,536.1 L525.8,536.3 L526.1,538.7 L526.4,537.1 L526.6,535.4 L526.9,539.8 L527.2,539.6 L527.2,541.4 L527.2,542.0 L527.2,539.7 L527.2,542.5 L527.2,543.0 L527.2,543.3 L527.2,544.2 L527.2,545.1 L527.2,544.4 L527.2,545.6 L527.2,548.0 L527.2,545.4 L527.2,547.5 L527.2,546.6 L527.2,547.2 L527.2,548.8 L527.2,550.4 L527.2,553.1 L527.2,551.0 L527.2,553.4 L527.2,553.4 L527.2,553.2 L527.5,548.6 L527.9,554.3 L528.2,554.7 L528.6,553.4 L528.9,555.8 L529.2,558.5 L529.6,554.8 L529.9,556.3 L530.3,559.1 L530.6,555.2 L530.6,557.1 L530.6,559.8 L530.7,561.4 L530.7,562.5 L530.7,562.3 L530.7,565.4 L530.8,562.9 L530.8,560.9 L530.8,563.2 L530.8,565.1 L530.9,565.3 L530.9,562.2 L530.9,566.6 L530.9,565.3 L531.0,566.8 L531.0,570.1 L531.0,568.1 L531.0,567.9 L531.1,569.4 L531.1,569.1 L531.1,574.0 L531.1,572.7 L531.2,573.4 L531.2,571.5 L531.2,572.2 L531.2,574.2 L531.3,570.9 L531.3,576.6 L531.3,573.5 L531.3,576.4 L531.4,577.3 L531.4,576.1 L531.4,578.6 L531.5,579.7 L531.7,582.3 L531.9,580.4 L532.0,583.3 L532.1,581.8 L532.3,581.3 L532.5,583.6 L532.6,582.0 L532.8,583.7 L532.9,585.0 L533.0,586.5 L533.2,585.7 L533.4,583.5 L533.5,588.5 L533.6,587.3 L533.8,587.2 L534.0,587.0 L534.1,589.8 L534.2,590.0 L534.4,591.2 L534.6,590.5 L534.7,593.8 L535.0,590.4 L535.3,590.9 L535.7,590.1 L536.0,591.0 L536.3,587.7 L536.6,587.8 L537.0,587.4 L537.3,586.2 L537.6,585.7 L537.9,584.3 L538.3,586.9 L538.6,587.6 L538.9,583.1 L538.9,585.3 L539.0,581.6 L539.0,581.6 L539.1,581.8 L539.1,581.8 L539.1,581.8 L539.2,577.3 L539.2,577.7 L539.3,579.3 L539.3,578.2 L539.4,581.4 L539.4,576.9 L539.4,575.7 L539.5,578.1 L539.5,571.3 L539.6,572.0 L539.6,578.7 L539.6,572.7 L539.7,573.2 L539.7,572.2 L539.8,570.5 L539.8,571.1 L539.9,568.6 L539.9,571.6 L539.9,570.7 L540.0,569.9 L540.0,566.8 L540.1,564.5 L540.1,566.2 L540.1,564.6 L540.2,566.4 L540.2,562.6 L540.3,563.1 L540.3,564.2 L540.4,564.0 L540.4,562.9 L540.4,560.1 L540.5,560.4 L540.5,564.1 L540.6,561.8 L540.6,558.4 L540.8,562.1 L541.0,558.2 L541.2,557.8 L541.4,555.9 L541.6,559.0 L541.8,556.1 L542.0,555.2 L542.2,553.2 L542.2,552.0 L542.2,553.8 L542.2,552.9 L542.2,554.7 L542.2,550.2 L542.2,550.4 L542.2,552.0 L542.2,551.1 L542.2,548.1 L542.2,551.0 L542.2,548.8 L542.2,548.8 L542.2,547.3 L542.2,547.7 L542.2,544.9 L542.2,544.6 L542.2,546.1 L542.2,544.4 L542.2,543.7 L542.2,544.4 L542.2,542.3 L542.2,542.0 L542.2,537.2 L542.2,539.3 L542.2,540.8 L542.2,537.5 L542.2,537.8 L542.2,538.0 L542.2,536.8 L542.2,537.8 L542.2,536.6 L542.2,535.0 L542.2,536.4 L542.2,533.5 L542.2,532.3 L542.2,533.3 L542.2,533.2 L542.2,531.4 L542.2,529.3 L542.2,529.6 L542.2,530.1 L542.2,530.3 L542.2,531.4 L542.2,527.7 L542.2,527.0 L542.2,523.3 L542.2,528.2 L542.2,527.0 L542.2,524.9 L542.2,523.2 L542.2,519.5 L542.2,524.3 L542.4,521.2 L542.7,524.3 L542.9,522.5 L543.1,522.7 L543.3,519.9 L543.6,521.4 L543.8,516.7 L544.0,520.6 L544.2,517.6 L544.5,515.2 L544.7,515.9 L544.7,514.3 L544.7,515.7 L544.7,513.5 L544.7,512.0 L544.7,512.9 L544.7,512.5 L544.7,512.5 L544.7,512.7 L544.7,513.0 L544.7,511.0 L544.7,512.4 L544.7,505.2 L544.7,508.4 L544.7,509.4 L544.7,505.2 L544.7,506.4 L544.7,506.5 L544.7,503.0 L544.7,504.0 L544.7,505.2 L544.7,503.2 L544.7,505.5 L544.7,506.2 L544.7,501.7 L544.7,499.4 L544.7,500.6 L544.7,499.1 L544.7,497.1 L544.7,498.2 L544.7,497.4 L545.1,497.1 L545.4,498.6 L545.8,498.3 L546.2,496.7 L546.5,494.9 L546.9,495.6 L547.3,494.4 L547.6,494.2 L548.0,491.7 L548.2,488.9 L548.5,495.8 L548.7,494.0 L548.9,494.7 L549.2,496.1 L549.4,496.6 L549.6,496.7 L549.9,500.2 L550.1,498.5 L550.3,499.2 L550.6,498.0 L550.8,499.8 L550.9,501.3 L551.0,501.1 L551.1,502.4 L551.2,501.0 L551.3,503.7 L551.4,502.1 L551.4,503.6 L551.5,503.7 L551.6,505.8 L551.7,507.9 L551.8,507.2 L551.9,506.0 L552.0,508.2 L552.1,510.3 L552.2,510.4 L552.3,510.6 L552.4,508.6 L552.5,510.2 L552.6,510.6 L552.7,511.5 L552.7,513.3 L552.8,513.6 L552.9,513.6 L553.0,515.7 L553.1,514.2 L553.2,515.5 L553.3,516.8 L553.3,515.0 L553.3,516.4 L553.4,516.2 L553.4,517.3 L553.4,519.4 L553.4,520.0 L553.4,521.4 L553.4,522.0 L553.5,520.2 L553.5,525.6 L553.5,525.4 L553.5,521.9 L553.5,523.4 L553.6,524.3 L553.6,526.0 L553.6,527.2 L553.6,526.9 L553.6,523.4 L553.6,532.6 L553.7,530.0 L553.7,530.6 L553.7,528.7 L553.7,530.7 L553.7,532.6 L553.8,531.0 L553.8,534.1 L553.8,533.1 L553.8,536.0 L553.8,534.2 L553.8,537.1 L553.9,532.8 L553.9,538.2 L553.9,537.3 L553.9,536.5 L553.9,539.5 L554.0,537.9 L554.0,540.3 L554.0,541.1 L554.0,541.8 L554.0,544.3 L554.0,543.6 L554.1,546.0 L554.1,543.7 L554.1,543.4 L554.4,544.4 L554.7,544.2 L554.9,542.9 L555.2,545.6 L555.5,544.1 L555.8,546.1 L556.0,546.6 L556.3,546.8 L556.6,546.5 L556.6,549.0 L556.7,549.4 L556.7,552.2 L556.7,551.6 L556.8,552.7 L556.8,551.1 L556.9,551.9 L556.9,551.0 L556.9,552.2 L557.0,555.3 L557.0,554.5 L557.0,555.2 L557.1,555.1 L557.1,559.1 L557.1,557.1 L557.2,559.6 L557.2,558.3 L557.2,560.5 L557.3,558.1 L557.3,558.1 L557.4,562.6 L557.4,560.9 L557.4,562.4 L557.5,564.0 L557.5,564.3 L557.9,564.2 L558.3,562.4 L558.8,563.7 L559.2,565.5 L559.6,567.0 L560.0,567.3 L560.0,567.7 L560.1,566.5 L560.1,568.3 L560.2,570.5 L560.2,568.2 L560.3,569.3 L560.3,572.2 L560.3,573.9 L560.4,572.7 L560.4,572.7 L560.5,571.8 L560.5,573.7 L560.5,573.2 L560.6,575.3 L560.6,576.9 L560.7,577.1 L560.7,579.0 L560.8,576.0 L560.8,576.2 L561.2,580.9 L561.6,581.0 L562.0,578.3 L562.5,580.6 L562.9,579.2 L563.3,581.5 L563.5,582.6 L563.7,584.2 L563.8,581.7 L564.0,581.9 L564.2,585.4 L564.4,584.5 L564.5,587.9 L564.7,584.4 L564.9,585.8 L565.1,583.1 L565.3,589.8 L565.4,590.7 L565.6,589.9 L565.8,589.3 L565.8,587.2 L565.9,588.8 L565.9,590.8 L565.9,595.2 L566.0,594.2 L566.0,592.5 L566.1,594.7 L566.1,595.5 L566.1,596.0 L566.2,594.4 L566.2,595.8 L566.2,598.6 L566.3,598.8 L566.3,597.7 L566.3,602.7 L566.4,599.9 L566.4,599.4 L566.5,602.1 L566.5,602.6 L566.5,601.7 L566.6,605.4 L566.6,604.8 L566.9,603.7 L567.2,605.3 L567.4,605.8 L567.7,604.9 L568.0,607.0 L568.3,605.6 L568.5,606.6 L568.8,608.6 L569.1,606.1 L569.2,608.2 L569.2,607.8 L569.3,611.2 L569.4,609.7 L569.4,614.2 L569.5,614.4 L569.6,611.5 L569.7,613.5 L569.7,613.3 L569.8,614.5 L569.9,616.2 L569.9,618.1 L570.0,619.9 L570.2,619.9 L570.5,615.6 L570.7,617.4 L570.9,618.5 L571.2,618.9 L571.4,620.2 L571.6,621.6 L571.9,620.4 L572.1,620.8 L572.4,626.1 L572.6,624.0 L572.8,627.0 L573.1,623.2 L573.3,626.9 L573.9,627.2 L574.5,626.4 L575.1,622.8 L575.6,624.7 L576.2,622.3 L576.8,621.6 L577.4,623.1 L577.7,623.4 L578.0,621.7 L578.3,621.3 L578.6,622.0 L578.9,619.3 L579.2,620.5 L579.5,620.6 L579.8,619.8 L580.0,619.1 L580.3,616.1 L580.6,616.7 L580.9,615.9 L581.2,617.2 L581.5,612.8 L581.8,615.2 L582.1,611.9 L582.4,614.9 L582.7,613.6 L583.0,615.1 L583.3,617.0 L583.6,618.8 L583.9,615.0 L584.2,617.3 L584.5,614.6 L584.8,617.9 L585.1,617.6 L585.4,620.3 L585.7,619.6 L586.0,620.5 L586.3,619.1 L586.6,620.9 L586.7,620.2 L586.8,622.6 L586.9,620.7 L587.0,624.2 L587.1,626.2 L587.2,629.2 L587.3,628.0 L587.4,628.3 L587.5,628.1 L587.6,629.9 L587.7,628.0 L587.8,629.2 L587.9,626.2 L588.0,629.0 L588.1,632.2 L588.2,628.3 L588.3,632.1 L588.4,632.1 L588.5,632.2 L588.6,633.9 L588.7,634.1 L588.8,632.8 L588.9,635.1 L589.0,633.0 L589.1,638.8 L589.6,636.8 L590.0,638.7 L590.5,636.3 L590.9,641.2 L591.4,640.3 L591.8,639.7 L592.3,639.9 L592.7,640.7 L593.2,639.4 L593.6,640.7 L594.1,641.1 L594.6,641.5 L595.0,642.9 L595.5,641.8 L596.0,639.9 L596.5,640.0 L596.9,638.1 L597.4,637.3 L597.7,634.9 L597.9,634.9 L598.2,634.4 L598.5,635.6 L598.7,634.9 L599.0,635.3 L599.2,635.9 L599.5,634.5 L599.8,632.7 L600.0,631.6 L600.3,631.3 L600.5,632.2 L600.8,629.2 L601.1,627.7 L601.3,629.1 L601.6,630.6 L602.1,631.2 L602.7,630.6 L603.2,627.0 L603.7,630.2 L604.2,632.0 L604.8,632.9 L605.3,634.5 L605.8,630.5 L606.3,632.9 L606.9,630.3 L607.4,632.8 L607.5,633.1 L607.6,635.6 L607.7,635.2 L607.8,632.7 L607.9,635.9 L608.0,637.3 L608.1,639.6 L608.2,636.7 L608.3,637.1 L608.4,638.2 L608.5,641.3 L608.6,639.8 L608.7,641.0 L608.8,642.2 L608.9,640.8 L609.0,644.4 L609.1,640.7 L609.2,646.7 L609.3,643.4 L609.4,643.6 L609.5,644.5 L609.6,644.4 L609.7,645.4 L609.8,646.1 L609.9,646.2 L610.0,648.3 L610.1,649.7 L610.2,648.9 L610.4,650.7 L610.5,649.7 L610.6,652.0 L610.7,651.7 L610.8,651.1 L610.9,653.6 L611.0,653.7 L611.2,653.6 L611.3,655.1 L611.4,656.7 L611.5,654.5 L611.9,656.1 L612.3,658.4 L612.8,657.9 L613.2,659.6 L613.6,662.7 L614.0,657.4 L614.4,660.4 L614.9,659.7 L615.3,663.1 L615.7,662.2 L616.0,658.6 L616.3,662.0 L616.7,659.8 L617.0,658.8 L617.3,658.8 L617.6,658.6 L618.0,656.4 L618.3,656.6 L618.6,658.9 L618.9,654.6 L619.3,654.8 L619.6,656.4 L619.9,653.2 L620.5,654.3 L621.1,654.9 L621.7,652.9 L622.3,653.7 L622.9,652.7 L623.5,653.6 L624.0,654.3 L624.6,653.7 L625.2,654.0 L625.8,654.1 L626.4,654.6 L627.0,651.5 L627.6,653.3 L628.2,655.5 L628.5,653.1 L628.8,653.6 L629.1,654.6 L629.5,653.9 L629.8,656.5 L630.1,656.1 L630.4,656.4 L630.7,658.3 L631.0,659.6 L631.3,655.9 L631.6,657.9 L632.0,658.8 L632.3,657.5 L632.6,661.3 L632.9,664.1 L633.2,662.6 L633.5,663.9 L633.8,659.3 L634.0,662.3 L634.3,661.4 L634.6,665.3 L634.9,664.4 L635.1,664.9 L635.4,666.5 L635.7,667.5 L636.0,669.4 L636.3,669.6 L636.5,669.5 L636.8,665.9 L637.1,671.1 L637.4,669.8 L637.6,667.8 L637.9,671.0 L638.2,670.9 L638.7,670.7 L639.1,671.9 L639.6,667.8 L640.0,670.5 L640.5,670.9 L640.9,666.8 L641.4,670.3 L641.8,666.6 L642.3,666.0 L642.7,668.2 L643.2,666.3 L643.4,662.8 L643.7,664.1 L643.9,665.6 L644.1,663.1 L644.4,662.6 L644.6,662.8 L644.9,662.1 L645.1,660.5 L645.3,659.5 L645.6,661.1 L645.8,661.7 L646.0,655.1 L646.3,659.3 L646.5,659.6 L647.0,656.2 L647.5,659.5 L648.0,654.4 L648.5,657.9 L649.0,658.5 L649.5,658.0 L650.0,650.9 L650.5,654.8 L651.0,652.7 L651.5,654.5 L652.1,656.1 L652.7,654.4 L653.3,656.3 L653.9,650.9 L654.5,652.1 L655.1,652.6 L655.7,654.4 L656.3,655.2 L656.9,651.8 L657.5,651.6 L658.1,654.4 L658.6,650.4 L659.0,653.0 L659.5,650.3 L659.9,651.0 L660.4,654.0 L660.8,649.8 L661.3,649.9 L661.7,648.1 L662.2,649.8 L662.6,650.9 L663.1,649.0 L663.6,645.5 L664.0,647.7 L664.5,649.1 L664.9,644.7 L665.4,645.5 L665.8,643.8 L666.3,643.9 L666.7,642.8 L667.2,641.8 L667.6,644.2 L668.1,642.9 L668.6,639.1 L669.0,640.4 L669.5,640.5 L669.9,639.4 L670.4,641.0 L670.8,640.0 L671.3,640.4 L671.7,637.2 L672.2,637.7 L672.6,637.8 L673.1,637.4 L673.3,636.9 L673.5,635.6 L673.7,636.1 L673.9,638.3 L674.1,633.9 L674.3,631.9 L674.5,634.4 L674.7,631.9 L674.8,634.0 L675.0,633.8 L675.2,634.3 L675.4,631.3 L675.6,627.7 L675.8,632.4 L676.0,630.7 L676.2,630.7 L676.4,628.3 L676.9,627.1 L677.3,627.2 L677.8,623.8 L678.2,627.9 L678.7,624.8 L679.1,624.4 L679.6,625.5 L680.0,623.1 L680.5,625.3 L680.9,622.6 L681.4,626.9 L681.8,624.7 L682.3,623.3 L682.7,622.3 L683.2,621.4 L683.6,620.1 L684.1,617.4 L684.5,619.1 L685.0,618.3 L685.4,618.3 L685.9,618.8 L686.3,615.2 L686.8,615.8 L687.2,616.2 L687.7,616.1 L688.1,617.9 L688.4,620.1 L688.6,615.1 L688.9,615.8 L689.2,614.2 L689.5,614.1 L689.8,615.9 L690.0,612.8 L690.3,612.9 L690.6,611.5 L690.9,609.9 L691.1,612.1 L691.4,609.6 L691.7,611.7 L692.1,607.0 L692.4,609.0 L692.7,610.5 L693.1,606.3 L693.4,607.4 L693.7,608.7 L694.1,606.5 L694.4,604.0 L694.8,604.3 L695.1,604.8 L695.4,602.9 L695.8,602.7 L696.1,603.0 L696.4,600.3 L696.8,604.5 L697.1,600.4 L697.4,600.8 L697.8,600.5 L698.1,602.1 L698.5,598.7 L698.9,602.1 L699.3,601.3 L699.7,599.0 L700.0,595.2 L700.4,594.8 L700.8,596.0 L701.2,596.4 L701.6,596.5 L702.0,596.9 L702.4,595.2 L702.8,594.1 L703.1,594.1 L703.5,589.7 L703.9,594.4 L704.3,589.6 L704.7,588.4 L705.3,590.3 L705.9,590.7 L706.5,589.3 L707.1,590.9 L707.7,591.3 L708.4,592.0 L709.0,591.6 L709.6,590.1 L710.2,591.0 L710.8,592.7 L711.4,590.2 L711.8,589.9 L712.2,586.2 L712.5,589.6 L712.9,591.9 L713.3,589.4 L713.7,587.3 L714.0,589.2 L714.4,588.7 L714.8,588.4 L715.2,583.9 L715.5,583.4 L715.9,585.9 L716.3,585.1 L716.7,584.5 L717.1,580.9 L717.4,584.0 L717.8,585.4 L718.2,583.7 L718.6,585.4 L718.9,581.6 L719.3,580.5 L719.7,582.7 L720.3,581.7 L720.8,576.7 L721.4,578.2 L721.9,581.4 L722.5,580.4 L723.0,584.4 L723.6,584.3 L724.2,584.1 L724.7,581.8 L725.3,582.2 L725.8,584.1 L726.4,582.6 L726.6,583.6 L726.9,582.5 L727.1,582.6 L727.4,581.0 L727.6,579.0 L727.9,575.0 L728.1,576.9 L728.4,576.2 L728.6,579.0 L728.8,575.0 L729.1,575.8 L729.3,576.9 L729.6,576.7 L729.8,576.7 L730.1,575.1 L730.3,576.3 L730.6,572.3 L730.8,574.6 L731.1,569.9 L731.3,570.9 L731.9,572.0 L732.5,572.1 L733.1,570.5 L733.7,569.7 L734.2,568.6 L734.8,566.7 L735.4,567.0 L736.0,572.6 L736.6,566.9 L736.9,566.7 L737.2,566.1 L737.4,567.7 L737.7,567.1 L738.0,566.1 L738.3,564.4 L738.5,565.7 L738.8,563.1 L739.1,565.3 L739.4,566.6 L739.7,562.1 L739.9,563.5 L740.2,561.8 L740.5,561.4 L740.8,559.3 L741.0,561.0 L741.3,560.3 L741.6,561.8 L742.0,563.1 L742.3,557.0 L742.7,560.1 L743.1,556.4 L743.5,556.4 L743.8,554.8 L744.2,557.0 L744.6,557.7 L745.0,555.0 L745.3,555.0 L745.7,552.9 L746.1,553.1 L746.4,551.0 L746.8,552.5 L747.2,548.8 L747.6,555.3 L747.9,553.1 L748.3,549.6 L748.6,550.3 L748.9,550.9 L749.2,552.3 L749.5,553.1 L749.9,556.3 L750.2,553.0 L750.5,551.2 L750.8,555.2 L751.1,556.0 L751.4,554.5 L751.7,557.7 L752.0,556.6 L752.4,556.1 L752.7,557.8 L753.0,556.4 L753.3,558.3 L753.7,561.2 L754.0,559.9 L754.4,558.4 L754.8,557.1 L755.1,556.9 L755.5,554.0 L755.9,555.7 L756.2,553.7 L756.6,553.4 L757.0,556.4 L757.3,552.2 L757.7,553.0 L758.1,552.5 L758.4,553.4 L758.8,550.9 L759.2,551.6 L759.5,550.9 L759.9,549.5 L760.2,548.3 L760.5,547.1 L760.8,549.9 L761.1,546.3 L761.5,549.0 L761.8,549.3 L762.1,545.2 L762.4,544.0 L762.7,543.4 L763.0,543.7 L763.3,546.1 L763.6,542.2 L763.9,541.2 L764.2,539.8 L764.6,542.1 L764.9,542.1 L765.2,543.3 L765.5,540.8 L765.8,539.7 L766.4,539.8 L767.0,544.6 L767.6,542.6 L768.3,541.6 L768.9,539.6 L769.5,540.0 L770.1,540.2 L770.7,540.3 L771.4,541.3 L772.0,539.4 L772.6,543.7 L773.2,539.1 L773.7,541.4 L774.2,541.3 L774.7,541.3 L775.3,541.6 L775.8,539.6 L776.3,539.1 L776.8,540.8 L777.3,540.2 L777.8,537.8 L778.4,538.9 L778.9,535.2 L779.4,537.5 L779.9,533.2 L780.5,538.6 L781.2,535.6 L781.8,538.2 L782.5,537.5 L783.1,535.9 L783.7,538.3 L784.4,539.6 L785.0,535.6 L785.6,540.1 L786.3,537.8 L786.9,535.8 L787.6,536.9 L788.2,537.9 L788.4,537.9 L788.6,534.9 L788.8,535.0 L788.9,535.7 L789.1,534.8 L789.3,536.9 L789.5,534.5 L789.7,534.0 L789.9,530.5 L790.0,529.9 L790.2,529.1 L790.4,530.1 L790.6,530.6 L790.8,531.7 L791.0,529.9 L791.1,526.5 L791.3,527.1 L791.5,530.0 L792.1,526.6 L792.6,527.0 L793.2,523.7 L793.7,523.5 L794.3,524.7 L794.9,524.8 L795.4,525.9 L796.0,524.6 L796.5,521.9 L797.1,528.3 L797.7,524.8 L798.2,521.3 L798.8,526.4 L799.3,524.9 L799.9,523.0 L800.3,522.9 L800.8,523.2 L801.2,518.3 L801.7,523.1 L802.1,521.5 L802.5,521.7 L803.0,519.2 L803.4,518.7 L803.9,521.8 L804.3,513.5 L804.7,520.3 L805.2,519.8 L805.6,514.9 L806.1,516.7 L806.5,515.5 L807.1,515.4 L807.6,514.0 L808.2,513.6 L808.7,515.6 L809.3,514.8 L809.9,515.8 L810.4,515.9 L811.0,513.5 L811.5,517.5 L812.1,516.5 L812.6,511.1 L813.2,513.0 L813.7,512.3 L814.2,513.2 L814.7,510.5 L815.2,514.3 L815.7,510.7 L816.2,514.4 L816.8,509.4 L817.3,513.3 L817.8,510.5 L818.3,510.9 L818.8,509.6 L819.3,509.2 L819.8,506.7 L820.4,507.8 L821.0,506.8 L821.6,507.5 L822.2,507.1 L822.8,508.8 L823.5,507.9 L824.1,506.8 L824.7,504.3 L825.3,508.5 L825.9,505.6 L826.5,506.1 L826.9,507.9 L827.3,507.6 L827.7,508.3 L828.1,508.9 L828.6,506.2 L829.0,510.9 L829.4,509.9 L829.8,512.0 L830.2,510.4 L830.6,509.2 L831.0,511.7 L831.5,509.2 L831.9,510.1 L832.3,509.0 L832.7,508.9 L833.1,508.8 L833.5,507.7 L834.0,504.8 L834.4,505.4 L834.8,507.5 L835.2,504.7 L835.6,503.9 L836.0,504.0 L836.5,505.1 L836.9,501.8 L837.3,502.6 L837.7,501.5 L838.1,500.7 L838.5,502.5 L839.0,500.0 L839.4,500.5 L839.8,500.5 L840.2,501.2 L840.6,501.7 L841.0,502.6 L841.5,500.7 L841.9,498.5 L842.3,504.2 L842.7,505.9 L843.1,503.2 L843.5,504.3 L844.0,506.2 L844.4,504.0 L844.8,505.7 L845.2,504.6 L845.6,505.6 L846.0,504.4 L846.4,506.4 L846.7,501.9 L847.1,501.7 L847.5,500.1 L847.9,502.2 L848.3,501.2 L848.7,500.5 L849.1,501.3 L849.5,498.4 L849.8,497.1 L850.2,502.2 L850.6,498.4 L851.0,496.4 L851.4,499.1 L852.0,497.7 L852.6,496.1 L853.3,498.1 L853.9,499.3 L854.5,498.9 L855.1,497.6 L855.8,500.5 L856.4,496.5 L857.0,497.6 L857.6,498.7 L858.3,496.4 L858.9,499.1 L859.5,498.7 L860.1,499.7 L860.8,498.7 L861.4,501.4 L861.6,495.5 L861.7,496.5 L861.9,495.7 L862.0,495.9 L862.2,496.3 L862.4,493.1 L862.5,495.7 L862.7,495.3 L862.9,493.1 L863.0,490.2 L863.2,492.8 L863.3,491.9 L863.5,489.1 L863.7,488.9 L863.8,488.6 L864.0,486.6 L864.2,488.8 L864.3,489.4 L864.5,487.6 L864.6,485.4 L864.8,485.8 L865.4,486.1 L866.0,489.3 L866.6,485.9 L867.2,487.6 L867.8,486.6 L868.4,489.1 L869.0,486.3 L869.5,488.6 L870.1,487.4 L870.7,489.2 L871.3,486.2 L871.9,488.6 L872.5,490.7 L873.1,490.2 L873.7,487.5 L874.3,493.1 L874.9,489.7 L875.5,488.5 L876.1,488.2 L876.7,487.3 L877.3,491.1 L877.9,490.6 L878.5,490.8 L879.1,486.8 L879.7,485.4 L880.1,484.4 L880.5,485.0 L880.9,485.9 L881.2,484.4 L881.6,483.1 L882.0,486.0 L882.4,483.6 L882.8,484.7 L883.2,485.6 L883.5,481.9 L883.9,481.8 L884.3,484.1 L884.7,479.2 L885.3,481.2 L885.8,480.5 L886.4,482.3 L886.9,482.1 L887.5,483.7 L888.0,483.0 L888.6,486.0 L889.1,483.3 L889.7,484.7 L890.2,485.6 L890.7,482.7 L891.2,482.8 L891.7,483.2 L892.3,482.4 L892.8,483.9 L893.3,481.1 L893.8,479.5 L894.3,482.6 L894.8,479.9 L895.3,479.8 L895.8,480.0 L896.3,481.9 L896.9,481.0 L897.4,479.6 L897.9,479.4 L898.4,477.9 L898.9,481.0 L899.5,480.0 L900.1,477.1 L900.8,479.9 L901.4,476.4 L902.0,477.3 L902.6,477.6 L903.3,481.3 L903.9,481.9 L904.5,478.9 L905.1,478.1 L905.8,481.1 L906.4,478.2 L906.9,481.9 L907.5,478.1 L908.0,481.5 L908.5,479.0 L909.0,483.3 L909.6,481.0 L910.1,480.1 L910.6,481.6 L911.1,477.9 L911.7,482.1 L912.2,483.4 L912.7,486.3 L913.2,481.2 L913.8,485.1 L914.3,485.5 L914.6,484.1 L914.9,481.9 L915.2,482.2 L915.5,480.0 L915.8,481.3 L916.0,478.4 L916.3,479.0 L916.6,479.4 L916.9,477.3 L917.2,476.1 L917.5,477.5 L917.8,477.6 L918.1,477.6 L918.4,476.7 L918.7,478.1 L918.9,474.9 L919.2,476.5 L919.5,472.3 L919.8,474.4 L920.1,474.0 L920.4,475.3 L920.9,471.7 L921.3,476.0 L921.8,473.3 L922.3,473.2 L922.7,471.6 L923.2,476.1 L923.7,474.2 L924.2,476.8 L924.6,476.1 L925.1,477.5 L925.6,476.7 L926.0,475.9 L926.5,476.7 L927.0,477.0 L927.5,477.3 L928.0,475.0 L928.4,477.3 L928.9,472.2 L929.4,473.0 L929.9,475.8 L930.4,474.8 L930.9,477.2 L931.4,475.2 L931.8,471.5 L932.3,471.0 L932.8,472.4 L933.3,471.8 L933.8,472.7 L934.3,470.3 L934.8,469.6 L935.2,469.2 L935.7,469.9 L936.2,468.2 L936.7,469.0 L937.2,470.8 L937.6,469.7 L938.1,468.6 L938.6,471.6 L939.0,472.4 L939.5,470.1 L940.0,471.3 L940.5,469.8 L940.9,471.0 L941.4,471.3 L941.9,471.3 L942.3,472.8 L942.8,477.3 L943.3,475.8 L943.8,472.9 L944.3,473.9 L944.8,473.0 L945.3,472.7 L945.9,469.0 L946.4,471.5 L946.9,469.6 L947.4,470.3 L947.9,470.6 L948.4,464.5 L948.9,465.9 L949.4,470.3 L949.9,471.4 L950.5,470.3 L951.0,466.7 L951.5,467.6 L952.0,468.9 L952.5,467.2 L953.0,463.6 L953.6,468.4 L954.2,466.1 L954.9,467.1 L955.5,464.3 L956.1,465.3 L956.7,469.1 L957.4,466.4 L958.0,467.9 L958.6,469.8 L959.2,467.2 L959.9,467.2 L960.5,466.7 L961.1,468.5 L961.6,467.3 L962.1,467.0 L962.5,468.5 L963.0,466.3 L963.5,467.1 L964.0,463.3 L964.4,463.8 L964.9,464.9 L965.4,462.1 L965.9,460.7 L966.3,462.4 L966.8,461.3 L967.3,462.4 L967.8,463.9 L968.2,460.2 L968.7,458.7 L969.2,459.6 L969.7,459.5 L970.2,460.0 L970.6,463.1 L971.1,462.6 L971.6,462.7 L972.1,462.0 L972.5,464.4 L973.0,463.1 L973.5,466.4 L974.0,464.0 L974.4,464.3 L974.9,465.9 L975.4,468.6 L975.8,461.9 L976.3,465.1 L976.7,461.9 L977.1,460.8 L977.5,462.3 L978.0,463.9 L978.4,459.5 L978.8,461.0 L979.2,464.2 L979.7,462.9 L980.1,459.9 L980.5,461.1 L980.9,459.7 L981.4,458.2 L981.8,457.4 L982.2,460.3 L982.6,456.7 L983.1,457.1 L983.5,456.1 L984.0,454.9 L984.6,457.3 L985.1,461.0 L985.7,456.6 L986.2,458.5 L986.7,460.9 L987.3,460.1 L987.8,459.6 L988.4,461.0 L988.9,460.8 L989.4,460.6 L990.0,459.7 L990.5,460.6 L991.1,458.9 L991.6,462.3 L992.1,461.3 L992.6,460.3 L993.1,458.4 L993.6,459.8 L994.2,457.4 L994.7,461.0 L995.2,457.7 L995.7,460.7 L996.2,457.6 L996.7,459.7 L997.2,459.2 L997.8,459.4 L998.3,457.1 L998.8,454.2 L999.3,457.6 L999.8,455.6 L1000.3,453.8 L1000.8,454.2 L1001.3,456.0 L1001.9,456.3 L1002.4,455.5 L1002.9,455.8 L1003.4,456.0 L1003.9,453.4 L1004.3,454.3 L1004.8,454.4 L1005.2,454.8 L1005.7,455.5 L1006.1,456.5 L1006.6,455.8 L1007.0,457.3 L1007.5,459.0 L1007.9,457.4 L1008.4,458.5 L1009.0,455.9 L1009.5,455.6 L1010.0,459.5 L1010.6,456.2 L1011.1,458.0 L1011.6,452.6 L1012.2,451.6 L1012.7,455.1 L1013.2,454.4 L1013.8,450.8 L1014.3,455.4 L1014.9,454.9 L1015.4,452.5 L1015.9,454.2 L1016.5,454.0 L1017.0,452.8 L1017.5,451.4 L1018.1,453.1 L1018.6,451.0 L1019.1,450.6 L1019.7,448.9 L1020.2,451.0 L1020.8,453.1 L1021.3,450.5 L1021.9,450.7 L1022.4,449.6 L1023.0,451.6 L1023.5,453.6 L1024.1,452.2 L1024.6,453.6 L1025.2,454.7 L1025.7,451.7 L1026.3,452.4 L1026.9,454.6 L1027.4,453.4 L1028.0,452.3 L1028.5,454.3 L1029.1,455.2 L1029.6,456.5 L1030.2,453.6 L1030.7,455.8 L1031.3,456.2 L1031.8,451.1 L1032.4,457.1 L1032.8,455.3 L1033.2,452.3 L1033.5,457.3 L1033.9,454.6 L1034.3,453.8 L1034.7,456.7 L1035.1,454.1 L1035.5,450.2 L1035.8,451.4 L1036.2,453.6 L1036.6,452.4 L1037.0,452.4 L1037.4,449.3 L1037.7,450.7 L1038.1,447.3 L1038.5,447.5 L1038.9,449.3 L1039.2,448.6 L1039.6,450.2 L1040.0,449.5 L1040.4,450.7 L1040.7,454.1 L1041.1,452.1 L1041.5,453.4 L1041.9,449.8 L1042.2,451.6 L1042.6,454.6 L1043.0,450.9 L1043.4,453.4 L1043.7,454.0 L1044.1,456.9 L1044.5,452.6 L1044.9,455.1 L1045.2,456.4 L1045.6,457.1 L1045.9,453.7 L1046.3,457.8 L1046.6,456.4 L1047.0,456.8 L1047.3,455.2 L1047.6,454.7 L1048.0,452.7 L1048.3,452.2 L1048.7,450.1 L1049.0,452.2 L1049.3,449.0 L1049.7,452.3 L1050.0,450.7 L1050.4,448.4 L1050.7,449.1 L1051.3,446.2 L1051.9,447.0 L1052.5,447.5 L1053.1,446.3 L1053.8,447.6 L1054.4,448.1 L1055.0,447.4 L1055.6,447.0 L1056.2,446.4 L1056.8,445.1 L1057.4,449.1 L1058.0,447.5 L1058.6,450.1 L1059.2,446.2 L1059.9,447.2 L1060.5,449.1 L1061.1,450.2 L1061.7,449.5 L1062.3,449.3 L1062.9,445.5 L1063.5,448.3 L1064.0,450.1 L1064.6,443.3 L1065.2,447.0 L1065.7,449.7 L1066.3,444.0 L1066.9,445.8 L1067.4,448.2 L1068.0,445.6 L1068.4,445.4 L1068.9,446.9 L1069.3,445.7 L1069.7,447.6 L1070.2,446.7 L1070.6,448.7 L1071.0,446.4 L1071.5,448.0 L1071.9,448.9 L1072.4,445.4 L1072.8,451.0 L1073.2,449.4 L1073.7,449.4 L1074.1,448.5 L1074.5,450.2 L1074.9,448.3 L1075.2,450.4 L1075.6,451.5 L1076.0,447.7 L1076.4,446.8 L1076.8,447.2 L1077.1,446.6 L1077.5,447.3 L1077.9,442.8 L1078.3,446.4 L1078.6,445.0 L1079.0,443.7 L1079.4,441.6 L1079.8,445.1 L1080.2,444.9 L1080.5,443.2 L1080.9,443.3 L1081.3,443.1 L1081.8,442.4 L1082.2,443.9 L1082.7,441.3 L1083.1,444.7 L1083.6,439.8 L1084.1,446.1 L1084.5,447.2 L1085.0,446.9 L1085.4,444.1 L1085.9,445.4 L1086.3,447.2 L1086.8,445.3 L1087.3,447.8 L1087.7,447.4 L1088.2,450.4 L1088.6,447.6 L1089.1,447.9 L1089.6,450.1 L1090.0,451.3 L1090.5,449.5 L1090.9,448.2 L1091.4,448.7 L1091.7,447.7 L1092.0,449.9 L1092.3,447.6 L1092.6,448.7 L1092.9,445.9 L1093.2,447.2 L1093.5,448.0 L1093.8,444.8 L1094.1,447.9 L1094.4,445.6 L1094.6,443.7 L1094.9,443.9 L1095.2,443.8 L1095.5,442.0 L1095.8,441.9 L1096.1,442.7 L1096.4,438.7 L1096.7,445.2 L1097.0,442.1 L1097.3,442.2 L1097.6,443.3 L1098.2,440.8 L1098.8,439.6 L1099.5,439.5 L1100.1,440.6 L1100.7,442.0 L1101.3,438.3 L1101.9,442.5 L1102.5,439.1 L1103.2,437.9 L1103.8,441.8 L1104.4,438.8 L1105.0,440.8 L1105.6,437.5 L1106.2,440.8 L1106.9,438.9 L1107.5,441.6 L1108.1,437.1 L1108.7,438.5 L1109.3,438.1 L1109.9,440.0 L1110.6,438.0 L1111.2,439.1 L1111.8,439.6 L1112.3,439.2 L1112.9,440.4 L1113.4,440.9 L1114.0,438.1 L1114.5,442.7 L1115.1,439.5 L1115.6,440.3 L1116.2,444.6 L1116.7,441.0 L1117.3,442.1 L1117.8,443.8 L1118.4,441.9 L1118.9,443.0 L1119.5,443.0 L1120.0,443.4 L1120.6,441.7 L1121.2,445.2 L1121.9,443.4 L1122.5,444.2 L1123.1,443.2 L1123.8,442.0 L1124.4,444.7 L1125.0,441.5 L1125.6,444.3 L1126.2,441.6 L1126.9,441.6 L1127.5,443.0 L1128.1,446.6 L1128.8,444.4 L1129.4,443.1 L1130.0,443.0" stroke="#ff0000" stroke-width="5.4"/>
</g>
<g stroke="#000" stroke-width="8" fill="none" stroke-linecap="butt" opacity="0.42">
<rect x="113.3" y="23.0" width="1016.7" height="1119.4" stroke-linejoin="miter"/>
<line x1="113.4" y1="1142.4" x2="113.4" y2="1163.4"/><line x1="258.2" y1="1142.4" x2="258.2" y2="1154.7"/><line x1="403.0" y1="1142.4" x2="403.0" y2="1163.4"/><line x1="547.8" y1="1142.4" x2="547.8" y2="1154.7"/><line x1="692.6" y1="1142.4" x2="692.6" y2="1163.4"/><line x1="837.4" y1="1142.4" x2="837.4" y2="1154.7"/><line x1="982.2" y1="1142.4" x2="982.2" y2="1163.4"/><line x1="1129.8" y1="1142.4" x2="1129.8" y2="1154.7"/>
</g>
<g stroke="#000" stroke-width="4.6" fill="none" stroke-linecap="butt">
<rect x="113.3" y="23.0" width="1016.7" height="1119.4" stroke-linejoin="miter"/>
<line x1="113.4" y1="1142.4" x2="113.4" y2="1163.4"/><line x1="258.2" y1="1142.4" x2="258.2" y2="1154.7"/><line x1="403.0" y1="1142.4" x2="403.0" y2="1163.4"/><line x1="547.8" y1="1142.4" x2="547.8" y2="1154.7"/><line x1="692.6" y1="1142.4" x2="692.6" y2="1163.4"/><line x1="837.4" y1="1142.4" x2="837.4" y2="1154.7"/><line x1="982.2" y1="1142.4" x2="982.2" y2="1163.4"/><line x1="1129.8" y1="1142.4" x2="1129.8" y2="1154.7"/>
</g>
<g font-size="52" fill="#000"><text x="110.9" y="1220.5" text-anchor="middle" transform="matrix(1,0,0,1.045,0,-54.922)">2000</text><text x="401.7" y="1220.5" text-anchor="middle" transform="matrix(1,0,0,1.045,0,-54.922)">3000</text><text x="692.9" y="1220.5" text-anchor="middle" transform="matrix(1,0,0,1.045,0,-54.922)">4000</text><text x="982.9" y="1220.5" text-anchor="middle" transform="matrix(1,0,0,1.045,0,-54.922)">5000</text></g>
<text x="612" y="1308" font-size="63" text-anchor="middle" fill="#000" transform="matrix(1,0,0,1.045,0,-58.860)">Magnetic field (Gauss)</text>
<text transform="translate(65.4,583.3) rotate(-90) scale(1,1.055)" font-size="58" text-anchor="middle" fill="#000">Absorption signal (arb. unit)</text>
<g font-size="48">
<text x="134" y="91.6" fill="#000" transform="matrix(1,0,0,1.045,0,-4.122)">(i) BiVO<tspan font-size="33" dy="12.15">4</tspan></text>
<text x="134" y="160.8" fill="#0000ff" transform="matrix(1,0,0,1.045,0,-7.236)">(ii) BiVO<tspan font-size="33" dy="12.15">4</tspan><tspan dy="-12.15">:W</tspan></text>
<text x="134" y="230.1" fill="#ff0000" transform="matrix(1,0,0,1.045,0,-10.354)">(iii) BiVO<tspan font-size="33" dy="12.15">4</tspan><tspan dy="-12.15">:Mo</tspan></text>
</g>
<g font-size="50" text-anchor="end">
<text x="1108" y="406" fill="#ff0000" transform="matrix(1,0,0,1.045,0,-18.270)">(iii)</text>
<text x="1110.5" y="644" fill="#0000ff" transform="matrix(1,0,0,1.045,0,-28.980)">(ii)</text>
<text x="1109.5" y="906.5" fill="#000" transform="matrix(1,0,0,1.045,0,-40.792)">(i)</text>
</g>
</svg></div>
</body></html>
